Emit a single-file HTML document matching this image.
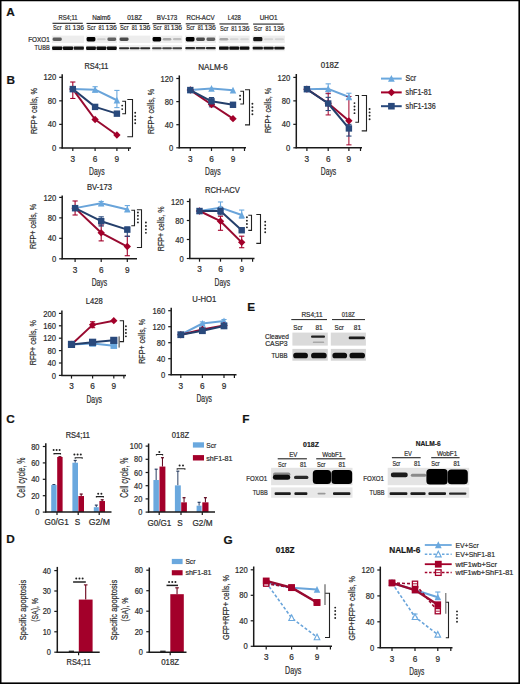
<!DOCTYPE html>
<html><head><meta charset="utf-8"><style>html,body{margin:0;padding:0;background:#fff;}svg{display:block;}text{font-family:"Liberation Sans",sans-serif;stroke:#333;stroke-width:0.22px;}</style></head><body>
<svg width="520" height="684" viewBox="0 0 520 684" font-family="Liberation Sans, sans-serif" fill="#2a2a2a">
<defs><filter id="bl" x="-20%" y="-50%" width="140%" height="200%"><feGaussianBlur stdDeviation="0.7"/></filter><filter id="bl2" x="-20%" y="-50%" width="140%" height="200%"><feGaussianBlur stdDeviation="0.45"/></filter></defs>
<rect x="0" y="0" width="520" height="684" fill="#fff" />
<text x="6.2" y="15.8" font-size="11.8" font-weight="bold" fill="#111" >A</text>
<text x="6.5" y="83.8" font-size="11.8" font-weight="bold" fill="#111" >B</text>
<text x="6.2" y="423" font-size="11.8" font-weight="bold" fill="#111" >C</text>
<text x="6.3" y="542.5" font-size="11.8" font-weight="bold" fill="#111" >D</text>
<text x="247.3" y="310.9" font-size="11.8" font-weight="bold" fill="#111" >E</text>
<text x="242.2" y="423" font-size="11.8" font-weight="bold" fill="#111" >F</text>
<text x="223.6" y="543.8" font-size="11.8" font-weight="bold" fill="#111" >G</text>
<text x="68" y="20.2" font-size="7" text-anchor="middle" textLength="19.2" lengthAdjust="spacingAndGlyphs" >RS4;11</text>
<line x1="52.5" y1="23.3" x2="82.8" y2="23.3" stroke="#222" stroke-width="1.1" />
<text x="53.1" y="29.8" font-size="7.3" textLength="8.4" lengthAdjust="spacingAndGlyphs" >Scr</text>
<text x="65" y="29.8" font-size="7.3" textLength="5.8" lengthAdjust="spacingAndGlyphs" >81</text>
<text x="84" y="29.8" font-size="7.3" text-anchor="end" textLength="11.4" lengthAdjust="spacingAndGlyphs" >136</text>
<rect x="51.8" y="35.6" width="32.4" height="7.4" fill="#ededed" />
<rect x="51.8" y="45" width="32.4" height="6.2" fill="#f0f0f0" />
<rect x="52.6" y="37.49" width="9.2" height="3.41" rx="1.4" fill="rgb(93,93,93)" filter="url(#bl2)"/>
<rect x="52.1" y="46.5" width="10.2" height="3.4" rx="0.8" fill="rgb(10,10,10)" filter="url(#bl2)"/>
<rect x="62.9" y="46.5" width="10.2" height="3.4" rx="0.8" fill="rgb(10,10,10)" filter="url(#bl2)"/>
<rect x="73.7" y="46.6" width="10.2" height="3.2" rx="0.8" fill="rgb(21,21,21)" filter="url(#bl2)"/>
<text x="101.4" y="20.2" font-size="7" text-anchor="middle" textLength="18.2" lengthAdjust="spacingAndGlyphs" >Nalm6</text>
<line x1="86.5" y1="23.43" x2="115.6" y2="23.43" stroke="#222" stroke-width="1.1" />
<text x="87.1" y="29.97" font-size="7.3" textLength="8.4" lengthAdjust="spacingAndGlyphs" >Scr</text>
<text x="98.51" y="29.97" font-size="7.3" textLength="5.8" lengthAdjust="spacingAndGlyphs" >81</text>
<text x="116.8" y="29.97" font-size="7.3" text-anchor="end" textLength="11.4" lengthAdjust="spacingAndGlyphs" >136</text>
<rect x="85.8" y="35.6" width="31.2" height="7.4" fill="#ededed" />
<rect x="85.8" y="45" width="31.2" height="6.2" fill="#f0f0f0" />
<rect x="86.6" y="37" width="8.8" height="4.4" rx="1.4" fill="rgb(6,6,6)" filter="url(#bl2)"/>
<rect x="86.1" y="46.5" width="9.8" height="3.4" rx="0.8" fill="rgb(10,10,10)" filter="url(#bl2)"/>
<rect x="97" y="38.14" width="8.8" height="2.11" rx="1.4" fill="rgb(208,208,208)" filter="url(#bl2)"/>
<rect x="96.5" y="46.5" width="9.8" height="3.4" rx="0.8" fill="rgb(10,10,10)" filter="url(#bl2)"/>
<rect x="107.4" y="37.52" width="8.8" height="3.36" rx="1.4" fill="rgb(98,98,98)" filter="url(#bl2)"/>
<rect x="106.9" y="46.5" width="9.8" height="3.4" rx="0.8" fill="rgb(10,10,10)" filter="url(#bl2)"/>
<text x="134.65" y="20.2" font-size="7" text-anchor="middle" textLength="14.8" lengthAdjust="spacingAndGlyphs" >018Z</text>
<line x1="119.5" y1="23.56" x2="149.1" y2="23.56" stroke="#222" stroke-width="1.1" />
<text x="120.1" y="30.15" font-size="7.3" textLength="8.4" lengthAdjust="spacingAndGlyphs" >Scr</text>
<text x="131.71" y="30.15" font-size="7.3" textLength="5.8" lengthAdjust="spacingAndGlyphs" >81</text>
<text x="150.3" y="30.15" font-size="7.3" text-anchor="end" textLength="11.4" lengthAdjust="spacingAndGlyphs" >136</text>
<rect x="118.8" y="35.6" width="31.7" height="7.4" fill="#ededed" />
<rect x="118.8" y="45" width="31.7" height="6.2" fill="#f0f0f0" />
<rect x="119.6" y="37.39" width="8.97" height="3.62" rx="1.4" fill="rgb(75,75,75)" filter="url(#bl2)"/>
<rect x="119.1" y="47.2" width="9.97" height="2" rx="0.8" fill="rgb(43,43,43)" filter="url(#bl2)"/>
<rect x="129.67" y="47.2" width="9.97" height="2" rx="0.8" fill="rgb(43,43,43)" filter="url(#bl2)"/>
<rect x="140.23" y="47.2" width="9.97" height="2" rx="0.8" fill="rgb(43,43,43)" filter="url(#bl2)"/>
<text x="167.05" y="20.2" font-size="7" text-anchor="middle" textLength="20.4" lengthAdjust="spacingAndGlyphs" >BV-173</text>
<line x1="152.5" y1="23.69" x2="180.9" y2="23.69" stroke="#222" stroke-width="1.1" />
<text x="153.1" y="30.32" font-size="7.3" textLength="8.4" lengthAdjust="spacingAndGlyphs" >Scr</text>
<text x="164.23" y="30.32" font-size="7.3" textLength="5.8" lengthAdjust="spacingAndGlyphs" >81</text>
<text x="182.1" y="30.32" font-size="7.3" text-anchor="end" textLength="11.4" lengthAdjust="spacingAndGlyphs" >136</text>
<rect x="151.8" y="35.6" width="30.5" height="7.4" fill="#ededed" />
<rect x="151.8" y="45" width="30.5" height="6.2" fill="#f0f0f0" />
<rect x="152.6" y="37" width="8.57" height="4.4" rx="1.4" fill="rgb(6,6,6)" filter="url(#bl2)"/>
<rect x="152.1" y="47.2" width="9.57" height="2" rx="0.8" fill="rgb(66,66,66)" filter="url(#bl2)"/>
<rect x="162.77" y="37.91" width="8.57" height="2.58" rx="1.4" fill="rgb(167,167,167)" filter="url(#bl2)"/>
<rect x="162.27" y="47.2" width="9.57" height="2" rx="0.8" fill="rgb(66,66,66)" filter="url(#bl2)"/>
<rect x="172.93" y="38.04" width="8.57" height="2.32" rx="1.4" fill="rgb(190,190,190)" filter="url(#bl2)"/>
<rect x="172.43" y="47.2" width="9.57" height="2" rx="0.8" fill="rgb(66,66,66)" filter="url(#bl2)"/>
<text x="200.5" y="20.2" font-size="7" text-anchor="middle" textLength="28" lengthAdjust="spacingAndGlyphs" >RCH-ACV</text>
<line x1="185.7" y1="23.82" x2="214.6" y2="23.82" stroke="#222" stroke-width="1.1" />
<text x="186.3" y="30.49" font-size="7.3" textLength="8.4" lengthAdjust="spacingAndGlyphs" >Scr</text>
<text x="197.63" y="30.49" font-size="7.3" textLength="5.8" lengthAdjust="spacingAndGlyphs" >81</text>
<text x="215.8" y="30.49" font-size="7.3" text-anchor="end" textLength="11.4" lengthAdjust="spacingAndGlyphs" >136</text>
<rect x="185" y="35.6" width="31" height="7.4" fill="#ededed" />
<rect x="185" y="45" width="31" height="6.2" fill="#f0f0f0" />
<rect x="185.8" y="37" width="8.73" height="4.4" rx="1.4" fill="rgb(6,6,6)" filter="url(#bl2)"/>
<rect x="185.3" y="47.1" width="9.73" height="2.2" rx="0.8" fill="rgb(43,43,43)" filter="url(#bl2)"/>
<rect x="196.13" y="37.39" width="8.73" height="3.62" rx="1.4" fill="rgb(75,75,75)" filter="url(#bl2)"/>
<rect x="195.63" y="47.1" width="9.73" height="2.2" rx="0.8" fill="rgb(55,55,55)" filter="url(#bl2)"/>
<rect x="206.47" y="37.52" width="8.73" height="3.36" rx="1.4" fill="rgb(98,98,98)" filter="url(#bl2)"/>
<rect x="205.97" y="47.1" width="9.73" height="2.2" rx="0.8" fill="rgb(43,43,43)" filter="url(#bl2)"/>
<text x="234.2" y="20.2" font-size="7" text-anchor="middle" textLength="13.1" lengthAdjust="spacingAndGlyphs" >L428</text>
<line x1="219.4" y1="23.95" x2="248.3" y2="23.95" stroke="#222" stroke-width="1.1" />
<text x="220" y="30.66" font-size="7.3" textLength="8.4" lengthAdjust="spacingAndGlyphs" >Scr</text>
<text x="231.33" y="30.66" font-size="7.3" textLength="5.8" lengthAdjust="spacingAndGlyphs" >81</text>
<text x="249.5" y="30.66" font-size="7.3" text-anchor="end" textLength="11.4" lengthAdjust="spacingAndGlyphs" >136</text>
<rect x="218.7" y="35.6" width="31" height="7.4" fill="#ededed" />
<rect x="218.7" y="45" width="31" height="6.2" fill="#f0f0f0" />
<rect x="219.5" y="37.91" width="8.73" height="2.58" rx="1.4" fill="rgb(167,167,167)" filter="url(#bl2)"/>
<rect x="219" y="46.6" width="9.73" height="3.2" rx="0.8" fill="rgb(10,10,10)" filter="url(#bl2)"/>
<rect x="229.83" y="38.17" width="8.73" height="2.06" rx="1.4" fill="rgb(213,213,213)" filter="url(#bl2)"/>
<rect x="229.33" y="46.6" width="9.73" height="3.2" rx="0.8" fill="rgb(10,10,10)" filter="url(#bl2)"/>
<rect x="240.17" y="38.17" width="8.73" height="2.06" rx="1.4" fill="rgb(213,213,213)" filter="url(#bl2)"/>
<rect x="239.67" y="46.6" width="9.73" height="3.2" rx="0.8" fill="rgb(10,10,10)" filter="url(#bl2)"/>
<text x="268.6" y="20.2" font-size="7" text-anchor="middle" textLength="17.7" lengthAdjust="spacingAndGlyphs" >UHO1</text>
<line x1="253.1" y1="24.08" x2="283.4" y2="24.08" stroke="#222" stroke-width="1.1" />
<text x="253.7" y="30.84" font-size="7.3" textLength="8.4" lengthAdjust="spacingAndGlyphs" >Scr</text>
<text x="265.6" y="30.84" font-size="7.3" textLength="5.8" lengthAdjust="spacingAndGlyphs" >81</text>
<text x="284.6" y="30.84" font-size="7.3" text-anchor="end" textLength="11.4" lengthAdjust="spacingAndGlyphs" >136</text>
<rect x="252.4" y="35.6" width="32.4" height="7.4" fill="#ededed" />
<rect x="252.4" y="45" width="32.4" height="6.2" fill="#f0f0f0" />
<rect x="253.2" y="37.1" width="9.2" height="4.19" rx="1.4" fill="rgb(24,24,24)" filter="url(#bl2)"/>
<rect x="252.7" y="46.8" width="10.2" height="2.8" rx="0.8" fill="rgb(21,21,21)" filter="url(#bl2)"/>
<rect x="264" y="38.17" width="9.2" height="2.06" rx="1.4" fill="rgb(213,213,213)" filter="url(#bl2)"/>
<rect x="263.5" y="46.8" width="10.2" height="2.8" rx="0.8" fill="rgb(21,21,21)" filter="url(#bl2)"/>
<rect x="274.8" y="38.17" width="9.2" height="2.06" rx="1.4" fill="rgb(213,213,213)" filter="url(#bl2)"/>
<rect x="274.3" y="46.8" width="10.2" height="2.8" rx="0.8" fill="rgb(21,21,21)" filter="url(#bl2)"/>
<text x="49.8" y="41.6" font-size="7.4" text-anchor="end" textLength="21.6" lengthAdjust="spacingAndGlyphs" >FOXO1</text>
<text x="49.8" y="50.3" font-size="7.4" text-anchor="end" textLength="15.2" lengthAdjust="spacingAndGlyphs" >TUBB</text>
<line x1="62.2" y1="74.3" x2="62.2" y2="148.4" stroke="#1a1a1a" stroke-width="1.5" />
<line x1="61.5" y1="147.9" x2="131" y2="147.9" stroke="#1a1a1a" stroke-width="1.5" />
<line x1="59.2" y1="147.9" x2="62.2" y2="147.9" stroke="#1a1a1a" stroke-width="1.2" />
<text x="56.2" y="151" font-size="8.6" text-anchor="end" textLength="4.25" lengthAdjust="spacingAndGlyphs" >0</text>
<line x1="59.2" y1="124.37" x2="62.2" y2="124.37" stroke="#1a1a1a" stroke-width="1.2" />
<text x="56.2" y="127.47" font-size="8.6" text-anchor="end" textLength="8.5" lengthAdjust="spacingAndGlyphs" >40</text>
<line x1="59.2" y1="100.84" x2="62.2" y2="100.84" stroke="#1a1a1a" stroke-width="1.2" />
<text x="56.2" y="103.94" font-size="8.6" text-anchor="end" textLength="8.5" lengthAdjust="spacingAndGlyphs" >80</text>
<line x1="59.2" y1="77.3" x2="62.2" y2="77.3" stroke="#1a1a1a" stroke-width="1.2" />
<text x="56.2" y="80.4" font-size="8.6" text-anchor="end" textLength="12.75" lengthAdjust="spacingAndGlyphs" >120</text>
<line x1="72.8" y1="147.9" x2="72.8" y2="151.1" stroke="#1a1a1a" stroke-width="1.2" />
<text x="72.8" y="161.7" font-size="8.4" text-anchor="middle" textLength="4.6" lengthAdjust="spacingAndGlyphs" >3</text>
<line x1="95.1" y1="147.9" x2="95.1" y2="151.1" stroke="#1a1a1a" stroke-width="1.2" />
<text x="95.1" y="161.7" font-size="8.4" text-anchor="middle" textLength="4.6" lengthAdjust="spacingAndGlyphs" >6</text>
<line x1="116.9" y1="147.9" x2="116.9" y2="151.1" stroke="#1a1a1a" stroke-width="1.2" />
<text x="116.9" y="161.7" font-size="8.4" text-anchor="middle" textLength="4.6" lengthAdjust="spacingAndGlyphs" >9</text>
<line x1="128.6" y1="147.9" x2="128.6" y2="151.1" stroke="#1a1a1a" stroke-width="1.2" />
<text x="96.5" y="68.8" font-size="8.2" text-anchor="middle" textLength="23.9" lengthAdjust="spacingAndGlyphs" >RS4;11</text>
<text x="96.85" y="175.2" font-size="10.6" text-anchor="middle" textLength="15.5" lengthAdjust="spacingAndGlyphs" >Days</text>
<text transform="translate(36.8 110.9) rotate(-90)" font-size="9.8" text-anchor="middle" textLength="46" lengthAdjust="spacingAndGlyphs" >RFP+ cells, %</text>
<polyline points="72.8,89.07 95.1,89.66 116.9,100.25" fill="none" stroke="#69a4da" stroke-width="2" stroke-linejoin="round" />
<polyline points="72.8,89.07 95.1,119.49 116.9,134.96" fill="none" stroke="#980a30" stroke-width="2" stroke-linejoin="round" />
<polyline points="72.8,89.07 95.1,106.9 116.9,113.66" fill="none" stroke="#243f6b" stroke-width="2" stroke-linejoin="round" />
<line x1="95.1" y1="92.01" x2="95.1" y2="86.72" stroke="#6aa8de" stroke-width="1.1" />
<line x1="92.5" y1="92.01" x2="97.7" y2="92.01" stroke="#6aa8de" stroke-width="1.1" />
<line x1="92.5" y1="86.72" x2="97.7" y2="86.72" stroke="#6aa8de" stroke-width="1.1" />
<line x1="116.9" y1="107.6" x2="116.9" y2="90.42" stroke="#6aa8de" stroke-width="1.1" />
<line x1="114.3" y1="107.6" x2="119.5" y2="107.6" stroke="#6aa8de" stroke-width="1.1" />
<line x1="114.3" y1="90.42" x2="119.5" y2="90.42" stroke="#6aa8de" stroke-width="1.1" />
<line x1="72.8" y1="98.48" x2="72.8" y2="82.01" stroke="#a3002a" stroke-width="1.1" />
<line x1="70.2" y1="98.48" x2="75.4" y2="98.48" stroke="#a3002a" stroke-width="1.1" />
<line x1="70.2" y1="82.01" x2="75.4" y2="82.01" stroke="#a3002a" stroke-width="1.1" />
<polygon points="72.8,85.55 76.06,92.21 69.54,92.21" fill="#6aa8de"/>
<polygon points="95.1,86.14 98.36,92.79 91.84,92.79" fill="#6aa8de"/>
<polygon points="116.9,96.73 120.16,103.38 113.64,103.38" fill="#6aa8de"/>
<polygon points="72.8,85.39 76.48,89.07 72.8,92.75 69.12,89.07" fill="#a3002a"/>
<polygon points="95.1,115.81 98.78,119.49 95.1,123.17 91.42,119.49" fill="#a3002a"/>
<polygon points="116.9,131.28 120.58,134.96 116.9,138.64 113.22,134.96" fill="#a3002a"/>
<rect x="69.6" y="85.87" width="6.4" height="6.4" fill="#29497c" />
<rect x="91.9" y="103.7" width="6.4" height="6.4" fill="#29497c" />
<rect x="113.7" y="110.46" width="6.4" height="6.4" fill="#29497c" />
<polyline points="122.2,101.2 125.5,101.2 125.5,113.7 122.2,113.7" fill="none" stroke="#222" stroke-width="1.1"/>
<polyline points="127.3,99.5 132.5,99.5 132.5,136.8 127.3,136.8" fill="none" stroke="#222" stroke-width="1.1"/>
<circle cx="122.2" cy="105.6" r="0.95" fill="#222"/>
<circle cx="122.2" cy="109.1" r="0.95" fill="#222"/>
<circle cx="135.2" cy="112.8" r="0.95" fill="#222"/>
<circle cx="135.2" cy="116.3" r="0.95" fill="#222"/>
<circle cx="135.2" cy="119.8" r="0.95" fill="#222"/>
<circle cx="135.2" cy="123.3" r="0.95" fill="#222"/>
<line x1="179.3" y1="75.4" x2="179.3" y2="148.3" stroke="#1a1a1a" stroke-width="1.5" />
<line x1="178.6" y1="147.8" x2="246" y2="147.8" stroke="#1a1a1a" stroke-width="1.5" />
<line x1="176.3" y1="147.8" x2="179.3" y2="147.8" stroke="#1a1a1a" stroke-width="1.2" />
<text x="173.3" y="150.9" font-size="8.6" text-anchor="end" textLength="4.25" lengthAdjust="spacingAndGlyphs" >0</text>
<line x1="176.3" y1="124.7" x2="179.3" y2="124.7" stroke="#1a1a1a" stroke-width="1.2" />
<text x="173.3" y="127.8" font-size="8.6" text-anchor="end" textLength="8.5" lengthAdjust="spacingAndGlyphs" >40</text>
<line x1="176.3" y1="101.6" x2="179.3" y2="101.6" stroke="#1a1a1a" stroke-width="1.2" />
<text x="173.3" y="104.7" font-size="8.6" text-anchor="end" textLength="8.5" lengthAdjust="spacingAndGlyphs" >80</text>
<line x1="176.3" y1="78.5" x2="179.3" y2="78.5" stroke="#1a1a1a" stroke-width="1.2" />
<text x="173.3" y="81.6" font-size="8.6" text-anchor="end" textLength="12.75" lengthAdjust="spacingAndGlyphs" >120</text>
<line x1="190.3" y1="147.8" x2="190.3" y2="151" stroke="#1a1a1a" stroke-width="1.2" />
<text x="190.3" y="161.6" font-size="8.4" text-anchor="middle" textLength="4.6" lengthAdjust="spacingAndGlyphs" >3</text>
<line x1="211.5" y1="147.8" x2="211.5" y2="151" stroke="#1a1a1a" stroke-width="1.2" />
<text x="211.5" y="161.6" font-size="8.4" text-anchor="middle" textLength="4.6" lengthAdjust="spacingAndGlyphs" >6</text>
<line x1="233" y1="147.8" x2="233" y2="151" stroke="#1a1a1a" stroke-width="1.2" />
<text x="233" y="161.6" font-size="8.4" text-anchor="middle" textLength="4.6" lengthAdjust="spacingAndGlyphs" >9</text>
<line x1="244.5" y1="147.8" x2="244.5" y2="151" stroke="#1a1a1a" stroke-width="1.2" />
<text x="213" y="70.3" font-size="8.2" text-anchor="middle" textLength="29.6" lengthAdjust="spacingAndGlyphs" >NALM-6</text>
<text x="212.8" y="175.1" font-size="10.6" text-anchor="middle" textLength="15.5" lengthAdjust="spacingAndGlyphs" >Days</text>
<text transform="translate(153.8 111.4) rotate(-90)" font-size="9.8" text-anchor="middle" textLength="45.1" lengthAdjust="spacingAndGlyphs" >RFP+ cells, %</text>
<polyline points="190.3,90.05 211.5,88.61 233,90.28" fill="none" stroke="#69a4da" stroke-width="2" stroke-linejoin="round" />
<polyline points="190.3,90.05 211.5,104.49 233,118.69" fill="none" stroke="#980a30" stroke-width="2" stroke-linejoin="round" />
<polyline points="190.3,90.05 211.5,101.31 233,104.78" fill="none" stroke="#243f6b" stroke-width="2" stroke-linejoin="round" />
<line x1="211.5" y1="106.8" x2="211.5" y2="97.56" stroke="#29497c" stroke-width="1.1" />
<line x1="208.9" y1="106.8" x2="214.1" y2="106.8" stroke="#29497c" stroke-width="1.1" />
<line x1="208.9" y1="97.56" x2="214.1" y2="97.56" stroke="#29497c" stroke-width="1.1" />
<polygon points="190.3,86.53 193.56,93.19 187.04,93.19" fill="#6aa8de"/>
<polygon points="211.5,85.09 214.76,91.74 208.24,91.74" fill="#6aa8de"/>
<polygon points="233,86.76 236.26,93.42 229.74,93.42" fill="#6aa8de"/>
<polygon points="190.3,86.37 193.98,90.05 190.3,93.73 186.62,90.05" fill="#a3002a"/>
<polygon points="211.5,100.81 215.18,104.49 211.5,108.17 207.82,104.49" fill="#a3002a"/>
<polygon points="233,115.01 236.68,118.69 233,122.37 229.32,118.69" fill="#a3002a"/>
<rect x="187.1" y="86.85" width="6.4" height="6.4" fill="#29497c" />
<rect x="208.3" y="98.11" width="6.4" height="6.4" fill="#29497c" />
<rect x="229.8" y="101.58" width="6.4" height="6.4" fill="#29497c" />
<polyline points="240.3,91.3 243.5,91.3 243.5,104 240.3,104" fill="none" stroke="#222" stroke-width="1.1"/>
<polyline points="245,89.7 249.5,89.7 249.5,124.9 245,124.9" fill="none" stroke="#222" stroke-width="1.1"/>
<circle cx="240.1" cy="95.7" r="0.95" fill="#222"/>
<circle cx="240.1" cy="99.2" r="0.95" fill="#222"/>
<circle cx="252.4" cy="103.7" r="0.95" fill="#222"/>
<circle cx="252.4" cy="107.2" r="0.95" fill="#222"/>
<circle cx="252.4" cy="110.7" r="0.95" fill="#222"/>
<circle cx="252.4" cy="114.2" r="0.95" fill="#222"/>
<line x1="296.3" y1="74" x2="296.3" y2="148.3" stroke="#1a1a1a" stroke-width="1.5" />
<line x1="295.6" y1="147.8" x2="362" y2="147.8" stroke="#1a1a1a" stroke-width="1.5" />
<line x1="293.3" y1="147.8" x2="296.3" y2="147.8" stroke="#1a1a1a" stroke-width="1.2" />
<text x="290.3" y="150.9" font-size="8.6" text-anchor="end" textLength="4.25" lengthAdjust="spacingAndGlyphs" >0</text>
<line x1="293.3" y1="124.33" x2="296.3" y2="124.33" stroke="#1a1a1a" stroke-width="1.2" />
<text x="290.3" y="127.43" font-size="8.6" text-anchor="end" textLength="8.5" lengthAdjust="spacingAndGlyphs" >40</text>
<line x1="293.3" y1="100.86" x2="296.3" y2="100.86" stroke="#1a1a1a" stroke-width="1.2" />
<text x="290.3" y="103.96" font-size="8.6" text-anchor="end" textLength="8.5" lengthAdjust="spacingAndGlyphs" >80</text>
<line x1="293.3" y1="77.4" x2="296.3" y2="77.4" stroke="#1a1a1a" stroke-width="1.2" />
<text x="290.3" y="80.5" font-size="8.6" text-anchor="end" textLength="12.75" lengthAdjust="spacingAndGlyphs" >120</text>
<line x1="306.9" y1="147.8" x2="306.9" y2="151" stroke="#1a1a1a" stroke-width="1.2" />
<text x="306.9" y="161.6" font-size="8.4" text-anchor="middle" textLength="4.6" lengthAdjust="spacingAndGlyphs" >3</text>
<line x1="328.2" y1="147.8" x2="328.2" y2="151" stroke="#1a1a1a" stroke-width="1.2" />
<text x="328.2" y="161.6" font-size="8.4" text-anchor="middle" textLength="4.6" lengthAdjust="spacingAndGlyphs" >6</text>
<line x1="348.9" y1="147.8" x2="348.9" y2="151" stroke="#1a1a1a" stroke-width="1.2" />
<text x="348.9" y="161.6" font-size="8.4" text-anchor="middle" textLength="4.6" lengthAdjust="spacingAndGlyphs" >9</text>
<line x1="360.5" y1="147.8" x2="360.5" y2="151" stroke="#1a1a1a" stroke-width="1.2" />
<text x="329.8" y="68.4" font-size="8.2" text-anchor="middle" textLength="18" lengthAdjust="spacingAndGlyphs" >018Z</text>
<text x="328.5" y="175.1" font-size="10.6" text-anchor="middle" textLength="15.5" lengthAdjust="spacingAndGlyphs" >Days</text>
<text transform="translate(271.2 110.5) rotate(-90)" font-size="9.8" text-anchor="middle" textLength="45.2" lengthAdjust="spacingAndGlyphs" >RFP+ cells, %</text>
<polyline points="306.9,89.13 328.2,88.84 348.9,97.05" fill="none" stroke="#69a4da" stroke-width="2" stroke-linejoin="round" />
<polyline points="306.9,89.13 328.2,103.21 348.9,120.81" fill="none" stroke="#980a30" stroke-width="2" stroke-linejoin="round" />
<polyline points="306.9,89.13 328.2,103.5 348.9,128.44" fill="none" stroke="#243f6b" stroke-width="2" stroke-linejoin="round" />
<line x1="328.2" y1="93.82" x2="328.2" y2="83.85" stroke="#6aa8de" stroke-width="1.1" />
<line x1="325.6" y1="93.82" x2="330.8" y2="93.82" stroke="#6aa8de" stroke-width="1.1" />
<line x1="325.6" y1="83.85" x2="330.8" y2="83.85" stroke="#6aa8de" stroke-width="1.1" />
<line x1="348.9" y1="99.1" x2="348.9" y2="93.24" stroke="#6aa8de" stroke-width="1.1" />
<line x1="346.3" y1="99.1" x2="351.5" y2="99.1" stroke="#6aa8de" stroke-width="1.1" />
<line x1="346.3" y1="93.24" x2="351.5" y2="93.24" stroke="#6aa8de" stroke-width="1.1" />
<line x1="328.2" y1="114.94" x2="328.2" y2="93.24" stroke="#a3002a" stroke-width="1" />
<line x1="325.6" y1="114.94" x2="330.8" y2="114.94" stroke="#a3002a" stroke-width="1" />
<line x1="325.6" y1="93.24" x2="330.8" y2="93.24" stroke="#a3002a" stroke-width="1" />
<line x1="348.9" y1="144.87" x2="348.9" y2="96.46" stroke="#a3002a" stroke-width="1" />
<line x1="346.3" y1="144.87" x2="351.5" y2="144.87" stroke="#a3002a" stroke-width="1" />
<line x1="346.3" y1="96.46" x2="351.5" y2="96.46" stroke="#a3002a" stroke-width="1" />
<line x1="328.2" y1="110.54" x2="328.2" y2="97.34" stroke="#29497c" stroke-width="1.1" />
<line x1="325.6" y1="110.54" x2="330.8" y2="110.54" stroke="#29497c" stroke-width="1.1" />
<line x1="325.6" y1="97.34" x2="330.8" y2="97.34" stroke="#29497c" stroke-width="1.1" />
<line x1="348.9" y1="136.07" x2="348.9" y2="124.33" stroke="#29497c" stroke-width="1.1" />
<line x1="346.3" y1="136.07" x2="351.5" y2="136.07" stroke="#29497c" stroke-width="1.1" />
<line x1="346.3" y1="124.33" x2="351.5" y2="124.33" stroke="#29497c" stroke-width="1.1" />
<polygon points="306.9,85.61 310.16,92.27 303.64,92.27" fill="#6aa8de"/>
<polygon points="328.2,85.32 331.46,91.97 324.94,91.97" fill="#6aa8de"/>
<polygon points="348.9,93.53 352.16,100.19 345.64,100.19" fill="#6aa8de"/>
<polygon points="306.9,85.45 310.58,89.13 306.9,92.81 303.22,89.13" fill="#a3002a"/>
<polygon points="328.2,99.53 331.88,103.21 328.2,106.89 324.52,103.21" fill="#a3002a"/>
<polygon points="348.9,117.13 352.58,120.81 348.9,124.49 345.22,120.81" fill="#a3002a"/>
<rect x="303.7" y="85.93" width="6.4" height="6.4" fill="#29497c" />
<rect x="325" y="100.3" width="6.4" height="6.4" fill="#29497c" />
<rect x="345.7" y="125.24" width="6.4" height="6.4" fill="#29497c" />
<polyline points="355.3,95.5 358.5,95.5 358.5,122.2 355.3,122.2" fill="none" stroke="#222" stroke-width="1.1"/>
<polyline points="361.7,95.5 366.5,95.5 366.5,130.9 361.7,130.9" fill="none" stroke="#222" stroke-width="1.1"/>
<circle cx="354.5" cy="103.1" r="0.95" fill="#222"/>
<circle cx="354.5" cy="106.45" r="0.95" fill="#222"/>
<circle cx="354.5" cy="109.8" r="0.95" fill="#222"/>
<circle cx="354.5" cy="113.15" r="0.95" fill="#222"/>
<circle cx="369.6" cy="109" r="0.95" fill="#222"/>
<circle cx="369.6" cy="112.4" r="0.95" fill="#222"/>
<circle cx="369.6" cy="115.8" r="0.95" fill="#222"/>
<circle cx="369.6" cy="119.2" r="0.95" fill="#222"/>
<line x1="381" y1="78.6" x2="401.7" y2="78.6" stroke="#6aa8de" stroke-width="2" />
<polygon points="391.4,74.97 394.77,81.83 388.03,81.83" fill="#6aa8de"/>
<text x="405.6" y="81.3" font-size="8.2" textLength="10.6" lengthAdjust="spacingAndGlyphs" >Scr</text>
<line x1="381" y1="92.4" x2="401.7" y2="92.4" stroke="#a3002a" stroke-width="2" />
<polygon points="391.4,88.6 395.19,92.4 391.4,96.19 387.6,92.4" fill="#a3002a"/>
<text x="405.6" y="95.1" font-size="8.2" textLength="26" lengthAdjust="spacingAndGlyphs" >shF1-81</text>
<line x1="381" y1="106.2" x2="401.7" y2="106.2" stroke="#29497c" stroke-width="2" />
<rect x="388.1" y="102.9" width="6.6" height="6.6" fill="#29497c" />
<text x="405.6" y="108.9" font-size="8.2" textLength="30.2" lengthAdjust="spacingAndGlyphs" >shF1-136</text>
<line x1="62.2" y1="195.4" x2="62.2" y2="259.3" stroke="#1a1a1a" stroke-width="1.5" />
<line x1="61.5" y1="258.8" x2="137" y2="258.8" stroke="#1a1a1a" stroke-width="1.5" />
<line x1="59.2" y1="258.8" x2="62.2" y2="258.8" stroke="#1a1a1a" stroke-width="1.2" />
<text x="56.2" y="261.9" font-size="8.6" text-anchor="end" textLength="4.25" lengthAdjust="spacingAndGlyphs" >0</text>
<line x1="59.2" y1="238.33" x2="62.2" y2="238.33" stroke="#1a1a1a" stroke-width="1.2" />
<text x="56.2" y="241.43" font-size="8.6" text-anchor="end" textLength="8.5" lengthAdjust="spacingAndGlyphs" >40</text>
<line x1="59.2" y1="217.86" x2="62.2" y2="217.86" stroke="#1a1a1a" stroke-width="1.2" />
<text x="56.2" y="220.96" font-size="8.6" text-anchor="end" textLength="8.5" lengthAdjust="spacingAndGlyphs" >80</text>
<line x1="59.2" y1="197.4" x2="62.2" y2="197.4" stroke="#1a1a1a" stroke-width="1.2" />
<text x="56.2" y="200.5" font-size="8.6" text-anchor="end" textLength="12.75" lengthAdjust="spacingAndGlyphs" >120</text>
<line x1="75.1" y1="258.8" x2="75.1" y2="262" stroke="#1a1a1a" stroke-width="1.2" />
<text x="75.1" y="272.6" font-size="8.4" text-anchor="middle" textLength="4.6" lengthAdjust="spacingAndGlyphs" >3</text>
<line x1="101.2" y1="258.8" x2="101.2" y2="262" stroke="#1a1a1a" stroke-width="1.2" />
<text x="101.2" y="272.6" font-size="8.4" text-anchor="middle" textLength="4.6" lengthAdjust="spacingAndGlyphs" >6</text>
<line x1="127.3" y1="258.8" x2="127.3" y2="262" stroke="#1a1a1a" stroke-width="1.2" />
<text x="127.3" y="272.6" font-size="8.4" text-anchor="middle" textLength="4.6" lengthAdjust="spacingAndGlyphs" >9</text>
<text x="99.4" y="189.9" font-size="8.2" text-anchor="middle" textLength="25" lengthAdjust="spacingAndGlyphs" >BV-173</text>
<text x="99.4" y="286.1" font-size="10.6" text-anchor="middle" textLength="15.5" lengthAdjust="spacingAndGlyphs" >Days</text>
<text transform="translate(36.4 226.4) rotate(-90)" font-size="9.8" text-anchor="middle" textLength="45.1" lengthAdjust="spacingAndGlyphs" >RFP+ cells, %</text>
<polyline points="75.1,208.14 101.2,203.28 127.3,209.42" fill="none" stroke="#69a4da" stroke-width="2" stroke-linejoin="round" />
<polyline points="75.1,208.14 101.2,232.81 127.3,246.52" fill="none" stroke="#980a30" stroke-width="2" stroke-linejoin="round" />
<polyline points="75.1,208.14 101.2,221.19 127.3,229.63" fill="none" stroke="#243f6b" stroke-width="2" stroke-linejoin="round" />
<line x1="101.2" y1="205.58" x2="101.2" y2="201.49" stroke="#6aa8de" stroke-width="1.1" />
<line x1="98.6" y1="205.58" x2="103.8" y2="205.58" stroke="#6aa8de" stroke-width="1.1" />
<line x1="98.6" y1="201.49" x2="103.8" y2="201.49" stroke="#6aa8de" stroke-width="1.1" />
<line x1="127.3" y1="211.21" x2="127.3" y2="205.58" stroke="#6aa8de" stroke-width="1.1" />
<line x1="124.7" y1="211.21" x2="129.9" y2="211.21" stroke="#6aa8de" stroke-width="1.1" />
<line x1="124.7" y1="205.58" x2="129.9" y2="205.58" stroke="#6aa8de" stroke-width="1.1" />
<line x1="75.1" y1="215" x2="75.1" y2="200.98" stroke="#a3002a" stroke-width="1.1" />
<line x1="72.5" y1="215" x2="77.7" y2="215" stroke="#a3002a" stroke-width="1.1" />
<line x1="72.5" y1="200.98" x2="77.7" y2="200.98" stroke="#a3002a" stroke-width="1.1" />
<line x1="101.2" y1="240.89" x2="101.2" y2="225.03" stroke="#a3002a" stroke-width="1.1" />
<line x1="98.6" y1="240.89" x2="103.8" y2="240.89" stroke="#a3002a" stroke-width="1.1" />
<line x1="98.6" y1="225.03" x2="103.8" y2="225.03" stroke="#a3002a" stroke-width="1.1" />
<line x1="127.3" y1="255.73" x2="127.3" y2="236.29" stroke="#a3002a" stroke-width="1.1" />
<line x1="124.7" y1="255.73" x2="129.9" y2="255.73" stroke="#a3002a" stroke-width="1.1" />
<line x1="124.7" y1="236.29" x2="129.9" y2="236.29" stroke="#a3002a" stroke-width="1.1" />
<line x1="101.2" y1="226.05" x2="101.2" y2="216.84" stroke="#29497c" stroke-width="1.1" />
<line x1="98.6" y1="226.05" x2="103.8" y2="226.05" stroke="#29497c" stroke-width="1.1" />
<line x1="98.6" y1="216.84" x2="103.8" y2="216.84" stroke="#29497c" stroke-width="1.1" />
<line x1="127.3" y1="236.29" x2="127.3" y2="227.07" stroke="#29497c" stroke-width="1.1" />
<line x1="124.7" y1="236.29" x2="129.9" y2="236.29" stroke="#29497c" stroke-width="1.1" />
<line x1="124.7" y1="227.07" x2="129.9" y2="227.07" stroke="#29497c" stroke-width="1.1" />
<polygon points="75.1,204.62 78.36,211.28 71.84,211.28" fill="#6aa8de"/>
<polygon points="101.2,199.76 104.46,206.42 97.94,206.42" fill="#6aa8de"/>
<polygon points="127.3,205.9 130.56,212.56 124.04,212.56" fill="#6aa8de"/>
<polygon points="75.1,204.46 78.78,208.14 75.1,211.82 71.42,208.14" fill="#a3002a"/>
<polygon points="101.2,229.13 104.88,232.81 101.2,236.49 97.52,232.81" fill="#a3002a"/>
<polygon points="127.3,242.84 130.98,246.52 127.3,250.2 123.62,246.52" fill="#a3002a"/>
<rect x="71.9" y="204.94" width="6.4" height="6.4" fill="#29497c" />
<rect x="98" y="217.99" width="6.4" height="6.4" fill="#29497c" />
<rect x="124.1" y="226.43" width="6.4" height="6.4" fill="#29497c" />
<polyline points="131.3,210.3 134.5,210.3 134.5,225.7 131.3,225.7" fill="none" stroke="#222" stroke-width="1.1"/>
<polyline points="136.9,209.7 141.5,209.7 141.5,247.5 136.9,247.5" fill="none" stroke="#222" stroke-width="1.1"/>
<circle cx="137.9" cy="212.5" r="0.95" fill="#222"/>
<circle cx="137.9" cy="215.8" r="0.95" fill="#222"/>
<circle cx="137.9" cy="219.1" r="0.95" fill="#222"/>
<circle cx="137.9" cy="222.4" r="0.95" fill="#222"/>
<circle cx="145.9" cy="222.5" r="0.95" fill="#222"/>
<circle cx="145.9" cy="225.95" r="0.95" fill="#222"/>
<circle cx="145.9" cy="229.4" r="0.95" fill="#222"/>
<circle cx="145.9" cy="232.85" r="0.95" fill="#222"/>
<line x1="189.8" y1="198.5" x2="189.8" y2="259" stroke="#1a1a1a" stroke-width="1.5" />
<line x1="189.1" y1="258.5" x2="254.5" y2="258.5" stroke="#1a1a1a" stroke-width="1.5" />
<line x1="186.8" y1="258.5" x2="189.8" y2="258.5" stroke="#1a1a1a" stroke-width="1.2" />
<text x="183.8" y="261.6" font-size="8.6" text-anchor="end" textLength="4.25" lengthAdjust="spacingAndGlyphs" >0</text>
<line x1="186.8" y1="239.5" x2="189.8" y2="239.5" stroke="#1a1a1a" stroke-width="1.2" />
<text x="183.8" y="242.6" font-size="8.6" text-anchor="end" textLength="8.5" lengthAdjust="spacingAndGlyphs" >40</text>
<line x1="186.8" y1="220.5" x2="189.8" y2="220.5" stroke="#1a1a1a" stroke-width="1.2" />
<text x="183.8" y="223.6" font-size="8.6" text-anchor="end" textLength="8.5" lengthAdjust="spacingAndGlyphs" >80</text>
<line x1="186.8" y1="201.5" x2="189.8" y2="201.5" stroke="#1a1a1a" stroke-width="1.2" />
<text x="183.8" y="204.6" font-size="8.6" text-anchor="end" textLength="12.75" lengthAdjust="spacingAndGlyphs" >120</text>
<line x1="199.5" y1="258.5" x2="199.5" y2="261.7" stroke="#1a1a1a" stroke-width="1.2" />
<text x="199.5" y="272.3" font-size="8.4" text-anchor="middle" textLength="4.6" lengthAdjust="spacingAndGlyphs" >3</text>
<line x1="220.5" y1="258.5" x2="220.5" y2="261.7" stroke="#1a1a1a" stroke-width="1.2" />
<text x="220.5" y="272.3" font-size="8.4" text-anchor="middle" textLength="4.6" lengthAdjust="spacingAndGlyphs" >6</text>
<line x1="241.7" y1="258.5" x2="241.7" y2="261.7" stroke="#1a1a1a" stroke-width="1.2" />
<text x="241.7" y="272.3" font-size="8.4" text-anchor="middle" textLength="4.6" lengthAdjust="spacingAndGlyphs" >9</text>
<line x1="252.6" y1="258.5" x2="252.6" y2="261.7" stroke="#1a1a1a" stroke-width="1.2" />
<text x="222.5" y="192.9" font-size="8.2" text-anchor="middle" textLength="34.8" lengthAdjust="spacingAndGlyphs" >RCH-ACV</text>
<text x="222.3" y="285.8" font-size="10.6" text-anchor="middle" textLength="15.5" lengthAdjust="spacingAndGlyphs" >Days</text>
<text transform="translate(164 228.8) rotate(-90)" font-size="9.8" text-anchor="middle" textLength="44.7" lengthAdjust="spacingAndGlyphs" >RFP+ cells, %</text>
<polyline points="199.5,211 220.5,207.68 241.7,215.04" fill="none" stroke="#69a4da" stroke-width="2" stroke-linejoin="round" />
<polyline points="199.5,211 220.5,221.21 241.7,242.35" fill="none" stroke="#980a30" stroke-width="2" stroke-linejoin="round" />
<polyline points="199.5,211 220.5,211 241.7,230.24" fill="none" stroke="#243f6b" stroke-width="2" stroke-linejoin="round" />
<line x1="220.5" y1="212.9" x2="220.5" y2="201.97" stroke="#6aa8de" stroke-width="1.1" />
<line x1="217.9" y1="212.9" x2="223.1" y2="212.9" stroke="#6aa8de" stroke-width="1.1" />
<line x1="217.9" y1="201.97" x2="223.1" y2="201.97" stroke="#6aa8de" stroke-width="1.1" />
<line x1="241.7" y1="218.12" x2="241.7" y2="210.05" stroke="#6aa8de" stroke-width="1.1" />
<line x1="239.1" y1="218.12" x2="244.3" y2="218.12" stroke="#6aa8de" stroke-width="1.1" />
<line x1="239.1" y1="210.05" x2="244.3" y2="210.05" stroke="#6aa8de" stroke-width="1.1" />
<line x1="220.5" y1="230.28" x2="220.5" y2="216.22" stroke="#a3002a" stroke-width="1.1" />
<line x1="217.9" y1="230.28" x2="223.1" y2="230.28" stroke="#a3002a" stroke-width="1.1" />
<line x1="217.9" y1="216.22" x2="223.1" y2="216.22" stroke="#a3002a" stroke-width="1.1" />
<line x1="241.7" y1="247.72" x2="241.7" y2="236.18" stroke="#a3002a" stroke-width="1.1" />
<line x1="239.1" y1="247.72" x2="244.3" y2="247.72" stroke="#a3002a" stroke-width="1.1" />
<line x1="239.1" y1="236.18" x2="244.3" y2="236.18" stroke="#a3002a" stroke-width="1.1" />
<line x1="220.5" y1="214.8" x2="220.5" y2="207.2" stroke="#29497c" stroke-width="1.1" />
<line x1="217.9" y1="214.8" x2="223.1" y2="214.8" stroke="#29497c" stroke-width="1.1" />
<line x1="217.9" y1="207.2" x2="223.1" y2="207.2" stroke="#29497c" stroke-width="1.1" />
<polygon points="199.5,207.48 202.76,214.14 196.24,214.14" fill="#6aa8de"/>
<polygon points="220.5,204.16 223.76,210.81 217.24,210.81" fill="#6aa8de"/>
<polygon points="241.7,211.52 244.96,218.17 238.44,218.17" fill="#6aa8de"/>
<polygon points="199.5,207.32 203.18,211 199.5,214.68 195.82,211" fill="#a3002a"/>
<polygon points="220.5,217.53 224.18,221.21 220.5,224.89 216.82,221.21" fill="#a3002a"/>
<polygon points="241.7,238.67 245.38,242.35 241.7,246.03 238.02,242.35" fill="#a3002a"/>
<rect x="196.3" y="207.8" width="6.4" height="6.4" fill="#29497c" />
<rect x="217.3" y="207.8" width="6.4" height="6.4" fill="#29497c" />
<rect x="238.5" y="227.04" width="6.4" height="6.4" fill="#29497c" />
<polyline points="248.3,215.3 251.5,215.3 251.5,230.4 248.3,230.4" fill="none" stroke="#222" stroke-width="1.1"/>
<polyline points="256.3,214.5 260.5,214.5 260.5,243.4 256.3,243.4" fill="none" stroke="#222" stroke-width="1.1"/>
<circle cx="246.9" cy="217.3" r="0.95" fill="#222"/>
<circle cx="246.9" cy="220.65" r="0.95" fill="#222"/>
<circle cx="246.9" cy="224" r="0.95" fill="#222"/>
<circle cx="246.9" cy="227.35" r="0.95" fill="#222"/>
<circle cx="265.2" cy="221.7" r="0.95" fill="#222"/>
<circle cx="265.2" cy="225.2" r="0.95" fill="#222"/>
<circle cx="265.2" cy="228.7" r="0.95" fill="#222"/>
<circle cx="265.2" cy="232.2" r="0.95" fill="#222"/>
<line x1="61.9" y1="310.4" x2="61.9" y2="375.9" stroke="#1a1a1a" stroke-width="1.5" />
<line x1="61.2" y1="375.4" x2="126" y2="375.4" stroke="#1a1a1a" stroke-width="1.5" />
<line x1="58.9" y1="375.4" x2="61.9" y2="375.4" stroke="#1a1a1a" stroke-width="1.2" />
<text x="55.9" y="378.5" font-size="8.6" text-anchor="end" textLength="4.25" lengthAdjust="spacingAndGlyphs" >0</text>
<line x1="58.9" y1="363" x2="61.9" y2="363" stroke="#1a1a1a" stroke-width="1.2" />
<text x="55.9" y="366.1" font-size="8.6" text-anchor="end" textLength="8.5" lengthAdjust="spacingAndGlyphs" >40</text>
<line x1="58.9" y1="350.6" x2="61.9" y2="350.6" stroke="#1a1a1a" stroke-width="1.2" />
<text x="55.9" y="353.7" font-size="8.6" text-anchor="end" textLength="8.5" lengthAdjust="spacingAndGlyphs" >80</text>
<line x1="58.9" y1="338.2" x2="61.9" y2="338.2" stroke="#1a1a1a" stroke-width="1.2" />
<text x="55.9" y="341.3" font-size="8.6" text-anchor="end" textLength="12.75" lengthAdjust="spacingAndGlyphs" >120</text>
<line x1="58.9" y1="325.8" x2="61.9" y2="325.8" stroke="#1a1a1a" stroke-width="1.2" />
<text x="55.9" y="328.9" font-size="8.6" text-anchor="end" textLength="12.75" lengthAdjust="spacingAndGlyphs" >160</text>
<line x1="58.9" y1="313.4" x2="61.9" y2="313.4" stroke="#1a1a1a" stroke-width="1.2" />
<text x="55.9" y="316.5" font-size="8.6" text-anchor="end" textLength="12.75" lengthAdjust="spacingAndGlyphs" >200</text>
<line x1="71.5" y1="375.4" x2="71.5" y2="378.6" stroke="#1a1a1a" stroke-width="1.2" />
<text x="71.5" y="389.2" font-size="8.4" text-anchor="middle" textLength="4.6" lengthAdjust="spacingAndGlyphs" >3</text>
<line x1="92.6" y1="375.4" x2="92.6" y2="378.6" stroke="#1a1a1a" stroke-width="1.2" />
<text x="92.6" y="389.2" font-size="8.4" text-anchor="middle" textLength="4.6" lengthAdjust="spacingAndGlyphs" >6</text>
<line x1="113.8" y1="375.4" x2="113.8" y2="378.6" stroke="#1a1a1a" stroke-width="1.2" />
<text x="113.8" y="389.2" font-size="8.4" text-anchor="middle" textLength="4.6" lengthAdjust="spacingAndGlyphs" >9</text>
<line x1="123.9" y1="375.4" x2="123.9" y2="378.6" stroke="#1a1a1a" stroke-width="1.2" />
<text x="94.2" y="304.4" font-size="8.2" text-anchor="middle" textLength="16.9" lengthAdjust="spacingAndGlyphs" >L428</text>
<text x="94.2" y="402.7" font-size="10.6" text-anchor="middle" textLength="15.5" lengthAdjust="spacingAndGlyphs" >Days</text>
<text transform="translate(36.4 342.7) rotate(-90)" font-size="9.8" text-anchor="middle" textLength="45.2" lengthAdjust="spacingAndGlyphs" >RFP+ cells, %</text>
<polyline points="71.5,344.4 92.6,343.47 113.8,345.64" fill="none" stroke="#69a4da" stroke-width="2" stroke-linejoin="round" />
<polyline points="71.5,344.4 92.6,324.87 113.8,320.69" fill="none" stroke="#980a30" stroke-width="2" stroke-linejoin="round" />
<polyline points="71.5,344.4 92.6,342.29 113.8,340.37" fill="none" stroke="#243f6b" stroke-width="2" stroke-linejoin="round" />
<line x1="92.6" y1="327.66" x2="92.6" y2="321.77" stroke="#a3002a" stroke-width="1.1" />
<line x1="90" y1="327.66" x2="95.2" y2="327.66" stroke="#a3002a" stroke-width="1.1" />
<line x1="90" y1="321.77" x2="95.2" y2="321.77" stroke="#a3002a" stroke-width="1.1" />
<rect x="68.2" y="341.1" width="6.6" height="6.6" fill="#6aa8de" />
<rect x="89.3" y="340.17" width="6.6" height="6.6" fill="#6aa8de" />
<rect x="110.5" y="342.34" width="6.6" height="6.6" fill="#6aa8de" />
<polygon points="71.5,340.72 75.18,344.4 71.5,348.08 67.82,344.4" fill="#a3002a"/>
<polygon points="92.6,321.19 96.28,324.87 92.6,328.55 88.92,324.87" fill="#a3002a"/>
<polygon points="113.8,317 117.48,320.69 113.8,324.37 110.12,320.69" fill="#a3002a"/>
<rect x="67.9" y="340.8" width="7.2" height="7.2" fill="#29497c" />
<rect x="89" y="338.69" width="7.2" height="7.2" fill="#29497c" />
<rect x="110.2" y="336.77" width="7.2" height="7.2" fill="#29497c" />
<polyline points="119.7,320.7 123.5,320.7 123.5,341.6 119.7,341.6" fill="none" stroke="#222" stroke-width="1.1"/>
<circle cx="125.9" cy="326.3" r="0.95" fill="#222"/>
<circle cx="125.9" cy="329.65" r="0.95" fill="#222"/>
<circle cx="125.9" cy="333" r="0.95" fill="#222"/>
<circle cx="125.9" cy="336.35" r="0.95" fill="#222"/>
<line x1="119.1" y1="336.4" x2="119.1" y2="347.6" stroke="#333" stroke-width="1" />
<line x1="171.2" y1="307.8" x2="171.2" y2="375.2" stroke="#1a1a1a" stroke-width="1.5" />
<line x1="170.5" y1="374.7" x2="236.5" y2="374.7" stroke="#1a1a1a" stroke-width="1.5" />
<line x1="168.2" y1="374.7" x2="171.2" y2="374.7" stroke="#1a1a1a" stroke-width="1.2" />
<text x="165.2" y="377.8" font-size="8.6" text-anchor="end" textLength="4.25" lengthAdjust="spacingAndGlyphs" >0</text>
<line x1="168.2" y1="358.7" x2="171.2" y2="358.7" stroke="#1a1a1a" stroke-width="1.2" />
<text x="165.2" y="361.8" font-size="8.6" text-anchor="end" textLength="8.5" lengthAdjust="spacingAndGlyphs" >40</text>
<line x1="168.2" y1="342.7" x2="171.2" y2="342.7" stroke="#1a1a1a" stroke-width="1.2" />
<text x="165.2" y="345.8" font-size="8.6" text-anchor="end" textLength="8.5" lengthAdjust="spacingAndGlyphs" >80</text>
<line x1="168.2" y1="326.7" x2="171.2" y2="326.7" stroke="#1a1a1a" stroke-width="1.2" />
<text x="165.2" y="329.8" font-size="8.6" text-anchor="end" textLength="12.75" lengthAdjust="spacingAndGlyphs" >120</text>
<line x1="168.2" y1="310.7" x2="171.2" y2="310.7" stroke="#1a1a1a" stroke-width="1.2" />
<text x="165.2" y="313.8" font-size="8.6" text-anchor="end" textLength="12.75" lengthAdjust="spacingAndGlyphs" >160</text>
<line x1="180.8" y1="374.7" x2="180.8" y2="377.9" stroke="#1a1a1a" stroke-width="1.2" />
<text x="180.8" y="388.5" font-size="8.4" text-anchor="middle" textLength="4.6" lengthAdjust="spacingAndGlyphs" >3</text>
<line x1="202.4" y1="374.7" x2="202.4" y2="377.9" stroke="#1a1a1a" stroke-width="1.2" />
<text x="202.4" y="388.5" font-size="8.4" text-anchor="middle" textLength="4.6" lengthAdjust="spacingAndGlyphs" >6</text>
<line x1="224" y1="374.7" x2="224" y2="377.9" stroke="#1a1a1a" stroke-width="1.2" />
<text x="224" y="388.5" font-size="8.4" text-anchor="middle" textLength="4.6" lengthAdjust="spacingAndGlyphs" >9</text>
<line x1="234.4" y1="374.7" x2="234.4" y2="377.9" stroke="#1a1a1a" stroke-width="1.2" />
<text x="204.3" y="302.4" font-size="8.2" text-anchor="middle" textLength="23.9" lengthAdjust="spacingAndGlyphs" >U-HO1</text>
<text x="204.2" y="402" font-size="10.6" text-anchor="middle" textLength="15.5" lengthAdjust="spacingAndGlyphs" >Days</text>
<text transform="translate(145.3 341.4) rotate(-90)" font-size="9.8" text-anchor="middle" textLength="44.8" lengthAdjust="spacingAndGlyphs" >RFP+ cells, %</text>
<polyline points="180.8,334.7 202.4,323.5 224,321.1" fill="none" stroke="#69a4da" stroke-width="2" stroke-linejoin="round" />
<polyline points="180.8,334.7 202.4,329.5 224,325.5" fill="none" stroke="#980a30" stroke-width="2" stroke-linejoin="round" />
<polyline points="180.8,334.7 202.4,330.7 224,325.9" fill="none" stroke="#243f6b" stroke-width="2" stroke-linejoin="round" />
<line x1="202.4" y1="325.1" x2="202.4" y2="321.9" stroke="#6aa8de" stroke-width="1.1" />
<line x1="199.8" y1="325.1" x2="205" y2="325.1" stroke="#6aa8de" stroke-width="1.1" />
<line x1="199.8" y1="321.9" x2="205" y2="321.9" stroke="#6aa8de" stroke-width="1.1" />
<line x1="224" y1="322.7" x2="224" y2="319.5" stroke="#6aa8de" stroke-width="1.1" />
<line x1="221.4" y1="322.7" x2="226.6" y2="322.7" stroke="#6aa8de" stroke-width="1.1" />
<line x1="221.4" y1="319.5" x2="226.6" y2="319.5" stroke="#6aa8de" stroke-width="1.1" />
<polygon points="180.8,331.18 184.06,337.84 177.54,337.84" fill="#6aa8de"/>
<polygon points="202.4,319.98 205.66,326.64 199.14,326.64" fill="#6aa8de"/>
<polygon points="224,317.58 227.26,324.24 220.74,324.24" fill="#6aa8de"/>
<polygon points="180.8,331.02 184.48,334.7 180.8,338.38 177.12,334.7" fill="#a3002a"/>
<polygon points="202.4,325.82 206.08,329.5 202.4,333.18 198.72,329.5" fill="#a3002a"/>
<polygon points="224,321.82 227.68,325.5 224,329.18 220.32,325.5" fill="#a3002a"/>
<rect x="177.4" y="331.3" width="6.8" height="6.8" fill="#29497c" />
<rect x="199" y="327.3" width="6.8" height="6.8" fill="#29497c" />
<rect x="220.6" y="322.5" width="6.8" height="6.8" fill="#29497c" />
<text x="312" y="316.8" font-size="7.4" text-anchor="middle" textLength="21.2" lengthAdjust="spacingAndGlyphs" >RS4;11</text>
<line x1="291.3" y1="319.6" x2="327" y2="319.6" stroke="#222" stroke-width="1" />
<text x="348.3" y="316.8" font-size="7.4" text-anchor="middle" textLength="13.2" lengthAdjust="spacingAndGlyphs" >018Z</text>
<line x1="332" y1="319.6" x2="365" y2="319.6" stroke="#222" stroke-width="1" />
<text x="293.3" y="329.6" font-size="7.4" textLength="9.3" lengthAdjust="spacingAndGlyphs" >Scr</text>
<text x="315.5" y="329.6" font-size="7.4" textLength="7.2" lengthAdjust="spacingAndGlyphs" >81</text>
<text x="334.5" y="329.6" font-size="7.4" textLength="9.3" lengthAdjust="spacingAndGlyphs" >Scr</text>
<text x="353.8" y="329.6" font-size="7.4" textLength="7.2" lengthAdjust="spacingAndGlyphs" >81</text>
<rect x="292.4" y="332.6" width="35.4" height="13" fill="#dadada" />
<rect x="330.8" y="332.6" width="35.1" height="13" fill="#dadada" />
<rect x="311" y="335.5" width="14" height="2.2" rx="1" fill="#222" filter="url(#bl2)"/>
<rect x="312.8" y="341.6" width="11.4" height="1.5" rx="0.7" fill="#a8a8a8" filter="url(#bl2)"/>
<rect x="348.7" y="336.6" width="16.3" height="2.6" rx="1.2" fill="#1a1a1a" filter="url(#bl2)"/>
<rect x="292.4" y="348.9" width="35.4" height="11.8" fill="#d4d4d4" />
<rect x="330.8" y="348.9" width="35.1" height="11.8" fill="#d4d4d4" />
<rect x="293.2" y="352.7" width="14.7" height="5.6" rx="2.6" fill="#111" filter="url(#bl2)"/>
<rect x="311.1" y="352.7" width="15.6" height="5.6" rx="2.6" fill="#111" filter="url(#bl2)"/>
<rect x="332.4" y="352.7" width="14.7" height="5.6" rx="2.6" fill="#111" filter="url(#bl2)"/>
<rect x="349.5" y="352.7" width="15.5" height="5.6" rx="2.6" fill="#111" filter="url(#bl2)"/>
<text x="288.8" y="338.9" font-size="7.4" text-anchor="end" textLength="23.8" lengthAdjust="spacingAndGlyphs" >Cleaved</text>
<text x="287.6" y="346.4" font-size="7.4" text-anchor="end" textLength="22.4" lengthAdjust="spacingAndGlyphs" >CASP3</text>
<text x="287.6" y="358.2" font-size="7.4" text-anchor="end" textLength="16.2" lengthAdjust="spacingAndGlyphs" >TUBB</text>
<line x1="53.9" y1="485.04" x2="53.9" y2="484.63" stroke="#2b3f63" stroke-width="1" />
<line x1="52.4" y1="484.63" x2="55.4" y2="484.63" stroke="#2b3f63" stroke-width="1.2" />
<rect x="51.2" y="485.04" width="5.4" height="27.06" fill="#6aa8de" />
<line x1="59.9" y1="457" x2="59.9" y2="456.75" stroke="#5a0018" stroke-width="1" />
<line x1="58.4" y1="456.75" x2="61.4" y2="456.75" stroke="#5a0018" stroke-width="1.2" />
<rect x="57.2" y="457" width="5.4" height="55.1" fill="#a3002a" />
<line x1="75.2" y1="462.74" x2="75.2" y2="460.44" stroke="#2b3f63" stroke-width="1" />
<line x1="73.7" y1="460.44" x2="76.7" y2="460.44" stroke="#2b3f63" stroke-width="1.2" />
<rect x="72.4" y="462.74" width="5.6" height="49.36" fill="#6aa8de" />
<line x1="81.2" y1="496.03" x2="81.2" y2="494.06" stroke="#5a0018" stroke-width="1" />
<line x1="79.7" y1="494.06" x2="82.7" y2="494.06" stroke="#5a0018" stroke-width="1.2" />
<rect x="78.4" y="496.03" width="5.6" height="16.07" fill="#a3002a" />
<line x1="96.3" y1="507.18" x2="96.3" y2="505.13" stroke="#2b3f63" stroke-width="1" />
<line x1="94.8" y1="505.13" x2="97.8" y2="505.13" stroke="#2b3f63" stroke-width="1.2" />
<rect x="93.8" y="507.18" width="5" height="4.92" fill="#6aa8de" />
<line x1="102.2" y1="501.03" x2="102.2" y2="499.8" stroke="#5a0018" stroke-width="1" />
<line x1="100.7" y1="499.8" x2="103.7" y2="499.8" stroke="#5a0018" stroke-width="1.2" />
<rect x="99.4" y="501.03" width="5.6" height="11.07" fill="#a3002a" />
<line x1="45.8" y1="443.2" x2="45.8" y2="512.6" stroke="#1a1a1a" stroke-width="1.5" />
<line x1="45.1" y1="512.1" x2="111.5" y2="512.1" stroke="#1a1a1a" stroke-width="1.5" />
<line x1="42.8" y1="512.1" x2="45.8" y2="512.1" stroke="#1a1a1a" stroke-width="1.2" />
<text x="39.5" y="515.1" font-size="8.4" text-anchor="end" textLength="4.15" lengthAdjust="spacingAndGlyphs" >0</text>
<line x1="42.8" y1="495.7" x2="45.8" y2="495.7" stroke="#1a1a1a" stroke-width="1.2" />
<text x="39.5" y="498.7" font-size="8.4" text-anchor="end" textLength="8.3" lengthAdjust="spacingAndGlyphs" >20</text>
<line x1="42.8" y1="479.3" x2="45.8" y2="479.3" stroke="#1a1a1a" stroke-width="1.2" />
<text x="39.5" y="482.3" font-size="8.4" text-anchor="end" textLength="8.3" lengthAdjust="spacingAndGlyphs" >40</text>
<line x1="42.8" y1="462.9" x2="45.8" y2="462.9" stroke="#1a1a1a" stroke-width="1.2" />
<text x="39.5" y="465.9" font-size="8.4" text-anchor="end" textLength="8.3" lengthAdjust="spacingAndGlyphs" >60</text>
<line x1="42.8" y1="446.5" x2="45.8" y2="446.5" stroke="#1a1a1a" stroke-width="1.2" />
<text x="39.5" y="449.5" font-size="8.4" text-anchor="end" textLength="8.3" lengthAdjust="spacingAndGlyphs" >80</text>
<line x1="57" y1="512.1" x2="57" y2="515.1" stroke="#1a1a1a" stroke-width="1.2" />
<line x1="78.2" y1="512.1" x2="78.2" y2="515.1" stroke="#1a1a1a" stroke-width="1.2" />
<line x1="99.2" y1="512.1" x2="99.2" y2="515.1" stroke="#1a1a1a" stroke-width="1.2" />
<text x="77.85" y="438.1" font-size="8.2" text-anchor="middle" textLength="24.3" lengthAdjust="spacingAndGlyphs" >RS4;11</text>
<text transform="translate(25 477.6) rotate(-90)" font-size="10" text-anchor="middle" textLength="40.3" lengthAdjust="spacingAndGlyphs" >Cell cycle, %</text>
<circle cx="53.6" cy="449.9" r="1.0" fill="#222"/>
<circle cx="56.6" cy="449.9" r="1.0" fill="#222"/>
<circle cx="59.6" cy="449.9" r="1.0" fill="#222"/>
<polyline points="54,454.6 54,453.6 60.5,453.6 60.5,454.6" fill="none" stroke="#222" stroke-width="1.1"/>
<circle cx="74.4" cy="454.5" r="1.0" fill="#222"/>
<circle cx="77.6" cy="454.5" r="1.0" fill="#222"/>
<circle cx="80.8" cy="454.5" r="1.0" fill="#222"/>
<polyline points="75.2,458.8 75.2,457.8 82.2,457.8 82.2,458.8" fill="none" stroke="#222" stroke-width="1.1"/>
<circle cx="98.2" cy="493.8" r="1.0" fill="#222"/>
<circle cx="101.4" cy="493.8" r="1.0" fill="#222"/>
<polyline points="96.4,497.6 96.4,496.6 103.4,496.6 103.4,497.6" fill="none" stroke="#222" stroke-width="1.1"/>
<text x="56.6" y="524.8" font-size="8.2" text-anchor="middle" textLength="24.2" lengthAdjust="spacingAndGlyphs" >G0/G1</text>
<text x="77.6" y="524.8" font-size="8.2" text-anchor="middle" >S</text>
<text x="99.4" y="524.8" font-size="8.2" text-anchor="middle" textLength="21.2" lengthAdjust="spacingAndGlyphs" >G2/M</text>
<line x1="156.15" y1="480.02" x2="156.15" y2="469.2" stroke="#2b3f63" stroke-width="1" />
<line x1="154.65" y1="469.2" x2="157.65" y2="469.2" stroke="#2b3f63" stroke-width="1.2" />
<rect x="153.4" y="480.02" width="5.5" height="32.08" fill="#6aa8de" />
<line x1="162.45" y1="466.56" x2="162.45" y2="457.72" stroke="#5a0018" stroke-width="1" />
<line x1="160.95" y1="457.72" x2="163.95" y2="457.72" stroke="#5a0018" stroke-width="1.2" />
<rect x="159.5" y="466.56" width="5.9" height="45.54" fill="#a3002a" />
<line x1="177.85" y1="485.37" x2="177.85" y2="471.18" stroke="#2b3f63" stroke-width="1" />
<line x1="176.35" y1="471.18" x2="179.35" y2="471.18" stroke="#2b3f63" stroke-width="1.2" />
<rect x="174.9" y="485.37" width="5.9" height="26.73" fill="#6aa8de" />
<line x1="184.05" y1="502.33" x2="184.05" y2="497.71" stroke="#5a0018" stroke-width="1" />
<line x1="182.55" y1="497.71" x2="185.55" y2="497.71" stroke="#5a0018" stroke-width="1.2" />
<rect x="181.2" y="502.33" width="5.7" height="9.77" fill="#a3002a" />
<line x1="199.1" y1="505.7" x2="199.1" y2="502.33" stroke="#2b3f63" stroke-width="1" />
<line x1="197.6" y1="502.33" x2="200.6" y2="502.33" stroke="#2b3f63" stroke-width="1.2" />
<rect x="196.6" y="505.7" width="5" height="6.4" fill="#6aa8de" />
<line x1="205.4" y1="502.33" x2="205.4" y2="497.71" stroke="#5a0018" stroke-width="1" />
<line x1="203.9" y1="497.71" x2="206.9" y2="497.71" stroke="#5a0018" stroke-width="1.2" />
<rect x="202.3" y="502.33" width="6.2" height="9.77" fill="#a3002a" />
<line x1="148.6" y1="443.5" x2="148.6" y2="512.6" stroke="#1a1a1a" stroke-width="1.5" />
<line x1="147.9" y1="512.1" x2="215" y2="512.1" stroke="#1a1a1a" stroke-width="1.5" />
<line x1="145.6" y1="512.1" x2="148.6" y2="512.1" stroke="#1a1a1a" stroke-width="1.2" />
<text x="142.3" y="515.1" font-size="8.4" text-anchor="end" textLength="4.15" lengthAdjust="spacingAndGlyphs" >0</text>
<line x1="145.6" y1="498.9" x2="148.6" y2="498.9" stroke="#1a1a1a" stroke-width="1.2" />
<text x="142.3" y="501.9" font-size="8.4" text-anchor="end" textLength="8.3" lengthAdjust="spacingAndGlyphs" >20</text>
<line x1="145.6" y1="485.7" x2="148.6" y2="485.7" stroke="#1a1a1a" stroke-width="1.2" />
<text x="142.3" y="488.7" font-size="8.4" text-anchor="end" textLength="8.3" lengthAdjust="spacingAndGlyphs" >40</text>
<line x1="145.6" y1="472.5" x2="148.6" y2="472.5" stroke="#1a1a1a" stroke-width="1.2" />
<text x="142.3" y="475.5" font-size="8.4" text-anchor="end" textLength="8.3" lengthAdjust="spacingAndGlyphs" >60</text>
<line x1="145.6" y1="459.3" x2="148.6" y2="459.3" stroke="#1a1a1a" stroke-width="1.2" />
<text x="142.3" y="462.3" font-size="8.4" text-anchor="end" textLength="8.3" lengthAdjust="spacingAndGlyphs" >80</text>
<line x1="145.6" y1="446.1" x2="148.6" y2="446.1" stroke="#1a1a1a" stroke-width="1.2" />
<text x="142.3" y="449.1" font-size="8.4" text-anchor="end" textLength="12.45" lengthAdjust="spacingAndGlyphs" >100</text>
<line x1="159.2" y1="512.1" x2="159.2" y2="515.1" stroke="#1a1a1a" stroke-width="1.2" />
<line x1="181" y1="512.1" x2="181" y2="515.1" stroke="#1a1a1a" stroke-width="1.2" />
<line x1="202.3" y1="512.1" x2="202.3" y2="515.1" stroke="#1a1a1a" stroke-width="1.2" />
<text x="180.5" y="438.1" font-size="8.2" text-anchor="middle" textLength="17.4" lengthAdjust="spacingAndGlyphs" >018Z</text>
<text transform="translate(128 477.6) rotate(-90)" font-size="10" text-anchor="middle" textLength="40.3" lengthAdjust="spacingAndGlyphs" >Cell cycle, %</text>
<circle cx="159.3" cy="451.9" r="1.0" fill="#222"/>
<polyline points="156.4,455.5 156.4,454.5 162.6,454.5 162.6,455.5" fill="none" stroke="#222" stroke-width="1.1"/>
<circle cx="179.6" cy="465.5" r="1.0" fill="#222"/>
<circle cx="183" cy="465.5" r="1.0" fill="#222"/>
<polyline points="177.2,469.8 177.2,468.8 184.9,468.8 184.9,469.8" fill="none" stroke="#222" stroke-width="1.1"/>
<text x="159.3" y="525.6" font-size="8.2" text-anchor="middle" textLength="23.8" lengthAdjust="spacingAndGlyphs" >G0/G1</text>
<text x="180" y="525.6" font-size="8.2" text-anchor="middle" >S</text>
<text x="202.5" y="525.6" font-size="8.2" text-anchor="middle" textLength="20" lengthAdjust="spacingAndGlyphs" >G2/M</text>
<rect x="192.9" y="442.3" width="11.1" height="5.3" fill="#6aa8de" />
<text x="206.3" y="447.6" font-size="8" textLength="10" lengthAdjust="spacingAndGlyphs" >Scr</text>
<rect x="192.9" y="455.1" width="11.1" height="5.4" fill="#a3002a" />
<text x="206.3" y="460.7" font-size="8" textLength="26.2" lengthAdjust="spacingAndGlyphs" >shF1-81</text>
<line x1="85.7" y1="599.57" x2="85.7" y2="584.88" stroke="#6a0018" stroke-width="1.1" />
<line x1="83.9" y1="584.88" x2="87.5" y2="584.88" stroke="#6a0018" stroke-width="1.1" />
<rect x="78.8" y="599.57" width="13.8" height="52.63" fill="#a3002a" />
<rect x="68.8" y="650.6" width="5.2" height="1.6" fill="#333" />
<line x1="57.3" y1="566.9" x2="57.3" y2="652.7" stroke="#1a1a1a" stroke-width="1.5" />
<line x1="56.6" y1="652.2" x2="99.7" y2="652.2" stroke="#1a1a1a" stroke-width="1.5" />
<line x1="54.3" y1="652.2" x2="57.3" y2="652.2" stroke="#1a1a1a" stroke-width="1.2" />
<text x="51" y="655.2" font-size="8.4" text-anchor="end" textLength="4.15" lengthAdjust="spacingAndGlyphs" >0</text>
<line x1="54.3" y1="631.8" x2="57.3" y2="631.8" stroke="#1a1a1a" stroke-width="1.2" />
<text x="51" y="634.8" font-size="8.4" text-anchor="end" textLength="8.3" lengthAdjust="spacingAndGlyphs" >10</text>
<line x1="54.3" y1="611.4" x2="57.3" y2="611.4" stroke="#1a1a1a" stroke-width="1.2" />
<text x="51" y="614.4" font-size="8.4" text-anchor="end" textLength="8.3" lengthAdjust="spacingAndGlyphs" >20</text>
<line x1="54.3" y1="591" x2="57.3" y2="591" stroke="#1a1a1a" stroke-width="1.2" />
<text x="51" y="594" font-size="8.4" text-anchor="end" textLength="8.3" lengthAdjust="spacingAndGlyphs" >30</text>
<line x1="54.3" y1="570.6" x2="57.3" y2="570.6" stroke="#1a1a1a" stroke-width="1.2" />
<text x="51" y="573.6" font-size="8.4" text-anchor="end" textLength="8.3" lengthAdjust="spacingAndGlyphs" >40</text>
<line x1="78.6" y1="652.2" x2="78.6" y2="655.2" stroke="#1a1a1a" stroke-width="1.2" />
<text x="78.65" y="665.2" font-size="8.2" text-anchor="middle" textLength="24.3" lengthAdjust="spacingAndGlyphs" >RS4;11</text>
<line x1="73.1" y1="582" x2="85.8" y2="582" stroke="#222" stroke-width="1.5" />
<circle cx="76.25" cy="578.5" r="1.0" fill="#222"/>
<circle cx="79.45" cy="578.5" r="1.0" fill="#222"/>
<circle cx="82.65" cy="578.5" r="1.0" fill="#222"/>
<line x1="177.05" y1="594.19" x2="177.05" y2="587.83" stroke="#6a0018" stroke-width="1.1" />
<line x1="175.25" y1="587.83" x2="178.85" y2="587.83" stroke="#6a0018" stroke-width="1.1" />
<rect x="170.3" y="594.19" width="13.5" height="58.01" fill="#a3002a" />
<rect x="160.2" y="650.6" width="5.4" height="1.6" fill="#333" />
<line x1="149.3" y1="567.5" x2="149.3" y2="652.7" stroke="#1a1a1a" stroke-width="1.5" />
<line x1="148.6" y1="652.2" x2="186.5" y2="652.2" stroke="#1a1a1a" stroke-width="1.5" />
<line x1="146.3" y1="652.2" x2="149.3" y2="652.2" stroke="#1a1a1a" stroke-width="1.2" />
<text x="143" y="655.2" font-size="8.4" text-anchor="end" textLength="4.15" lengthAdjust="spacingAndGlyphs" >0</text>
<line x1="146.3" y1="631.7" x2="149.3" y2="631.7" stroke="#1a1a1a" stroke-width="1.2" />
<text x="143" y="634.7" font-size="8.4" text-anchor="end" textLength="8.3" lengthAdjust="spacingAndGlyphs" >20</text>
<line x1="146.3" y1="611.2" x2="149.3" y2="611.2" stroke="#1a1a1a" stroke-width="1.2" />
<text x="143" y="614.2" font-size="8.4" text-anchor="end" textLength="8.3" lengthAdjust="spacingAndGlyphs" >40</text>
<line x1="146.3" y1="590.7" x2="149.3" y2="590.7" stroke="#1a1a1a" stroke-width="1.2" />
<text x="143" y="593.7" font-size="8.4" text-anchor="end" textLength="8.3" lengthAdjust="spacingAndGlyphs" >60</text>
<line x1="146.3" y1="570.2" x2="149.3" y2="570.2" stroke="#1a1a1a" stroke-width="1.2" />
<text x="143" y="573.2" font-size="8.4" text-anchor="end" textLength="8.3" lengthAdjust="spacingAndGlyphs" >80</text>
<line x1="170.2" y1="652.2" x2="170.2" y2="655.2" stroke="#1a1a1a" stroke-width="1.2" />
<text x="170.2" y="665.2" font-size="8.2" text-anchor="middle" textLength="18" lengthAdjust="spacingAndGlyphs" >018Z</text>
<line x1="166.5" y1="585.4" x2="178" y2="585.4" stroke="#222" stroke-width="1.5" />
<circle cx="169.05" cy="581.9" r="1.0" fill="#222"/>
<circle cx="172.25" cy="581.9" r="1.0" fill="#222"/>
<circle cx="175.45" cy="581.9" r="1.0" fill="#222"/>
<text transform="translate(25.8 610) rotate(-90)" font-size="9.8" text-anchor="middle" textLength="60.3" lengthAdjust="spacingAndGlyphs" >Specific apoptosis</text>
<text transform="translate(116.7 610) rotate(-90)" font-size="9.8" text-anchor="middle" textLength="60.3" lengthAdjust="spacingAndGlyphs" >Specific apoptosis</text>
<text transform="translate(37.5 609.9) rotate(-90)" font-size="9.8" text-anchor="middle" textLength="23.8" lengthAdjust="spacingAndGlyphs" >(SA), %</text>
<text transform="translate(128.3 609.5) rotate(-90)" font-size="9.8" text-anchor="middle" textLength="23.8" lengthAdjust="spacingAndGlyphs" >(SA), %</text>
<rect x="171.8" y="558.9" width="10.8" height="5.2" fill="#6aa8de" />
<text x="185.4" y="564.1" font-size="8" textLength="10" lengthAdjust="spacingAndGlyphs" >Scr</text>
<rect x="171.8" y="570.2" width="10.8" height="5.1" fill="#a3002a" />
<text x="185.4" y="575" font-size="8" textLength="26" lengthAdjust="spacingAndGlyphs" >shF1-81</text>
<text x="311" y="446.5" font-size="7.6" text-anchor="middle" font-weight="bold" fill="#111" textLength="15.8" lengthAdjust="spacingAndGlyphs" >018Z</text>
<text x="293.3" y="456.8" font-size="7.5" text-anchor="middle" textLength="8.2" lengthAdjust="spacingAndGlyphs" >EV</text>
<line x1="277.7" y1="458.8" x2="306.9" y2="458.8" stroke="#222" stroke-width="1.1" />
<text x="332.3" y="456.8" font-size="7.5" text-anchor="middle" textLength="20" lengthAdjust="spacingAndGlyphs" >WobF1</text>
<line x1="316.2" y1="458.8" x2="345.4" y2="458.8" stroke="#222" stroke-width="1.1" />
<text x="278" y="466.8" font-size="7.6" textLength="8.2" lengthAdjust="spacingAndGlyphs" >Scr</text>
<text x="300" y="466.8" font-size="7.6" textLength="6.6" lengthAdjust="spacingAndGlyphs" >81</text>
<text x="316.9" y="466.8" font-size="7.6" textLength="8.5" lengthAdjust="spacingAndGlyphs" >Scr</text>
<text x="338.5" y="466.8" font-size="7.6" textLength="6.9" lengthAdjust="spacingAndGlyphs" >81</text>
<rect x="271.1" y="467.8" width="81.4" height="17.4" fill="#e4e4e4" />
<rect x="271.1" y="487.4" width="81.4" height="10.4" fill="#e8e8e8" />
<rect x="273" y="472.6" width="17.4" height="3.8" rx="1.9" fill="#8a8a8a" filter="url(#bl)"/>
<rect x="272.9" y="474.8" width="17.3" height="5" rx="2.5" fill="#111" filter="url(#bl)"/>
<rect x="294" y="475.8" width="14.4" height="3.2" rx="1.6" fill="#2a2a2a" filter="url(#bl)"/>
<rect x="312.8" y="470" width="18.2" height="14" rx="3.5" fill="#000" filter="url(#bl)"/>
<rect x="331.4" y="470" width="20.8" height="14" rx="3.5" fill="#000" filter="url(#bl)"/>
<rect x="274.6" y="492.3" width="16.2" height="2.6" rx="1" fill="#1a1a1a" filter="url(#bl2)"/>
<rect x="294.4" y="492.3" width="13" height="2.6" rx="1" fill="#1a1a1a" filter="url(#bl2)"/>
<rect x="317.5" y="492.7" width="8.1" height="1.8" rx="1" fill="#999" filter="url(#bl2)"/>
<rect x="333" y="492.3" width="17.4" height="2.6" rx="1" fill="#1a1a1a" filter="url(#bl2)"/>
<text x="267.1" y="481.3" font-size="7.6" text-anchor="end" textLength="20.8" lengthAdjust="spacingAndGlyphs" >FOXO1</text>
<text x="267.7" y="495.4" font-size="7.6" text-anchor="end" textLength="15" lengthAdjust="spacingAndGlyphs" >TUBB</text>
<text x="428.25" y="446" font-size="7.6" text-anchor="middle" font-weight="bold" fill="#111" textLength="24.9" lengthAdjust="spacingAndGlyphs" >NALM-6</text>
<text x="408" y="455.7" font-size="7.5" text-anchor="middle" textLength="7.7" lengthAdjust="spacingAndGlyphs" >EV</text>
<line x1="391.9" y1="457.7" x2="420.7" y2="457.7" stroke="#222" stroke-width="1.1" />
<text x="447.1" y="455.7" font-size="7.5" text-anchor="middle" textLength="20.3" lengthAdjust="spacingAndGlyphs" >WobF1</text>
<line x1="431.2" y1="457.7" x2="459.6" y2="457.7" stroke="#222" stroke-width="1.1" />
<text x="392.4" y="465.7" font-size="7.6" textLength="8" lengthAdjust="spacingAndGlyphs" >Scr</text>
<text x="413.9" y="465.7" font-size="7.6" textLength="6.5" lengthAdjust="spacingAndGlyphs" >81</text>
<text x="431.2" y="465.7" font-size="7.6" textLength="8.4" lengthAdjust="spacingAndGlyphs" >Scr</text>
<text x="453.5" y="465.7" font-size="7.6" textLength="6.6" lengthAdjust="spacingAndGlyphs" >81</text>
<rect x="387.7" y="467.8" width="81.5" height="17.4" fill="#e4e4e4" />
<rect x="387.7" y="487.4" width="81.5" height="10.4" fill="#e8e8e8" />
<rect x="390.8" y="472.6" width="17" height="4.6" rx="2.3" fill="#1a1a1a" filter="url(#bl)"/>
<rect x="410.8" y="473.8" width="15.4" height="3" rx="1.5" fill="#8a8a8a" filter="url(#bl)"/>
<rect x="426.4" y="469" width="21.2" height="15.4" rx="3.5" fill="#000" filter="url(#bl)"/>
<rect x="447.8" y="469.4" width="20" height="14.8" rx="3.5" fill="#000" filter="url(#bl)"/>
<rect x="389.6" y="492.3" width="17.8" height="2.6" rx="1" fill="#1a1a1a" filter="url(#bl2)"/>
<rect x="410.4" y="492.3" width="15.2" height="2.6" rx="1" fill="#1a1a1a" filter="url(#bl2)"/>
<rect x="428.4" y="492.3" width="17.6" height="2.6" rx="1" fill="#1a1a1a" filter="url(#bl2)"/>
<rect x="449" y="492.5" width="17.4" height="2.2" rx="1" fill="#2a2a2a" filter="url(#bl2)"/>
<text x="384" y="481.3" font-size="7.6" text-anchor="end" textLength="20.8" lengthAdjust="spacingAndGlyphs" >FOXO1</text>
<text x="384.6" y="495.4" font-size="7.6" text-anchor="end" textLength="15" lengthAdjust="spacingAndGlyphs" >TUBB</text>
<line x1="253.7" y1="566.5" x2="253.7" y2="646.8" stroke="#1a1a1a" stroke-width="1.5" />
<line x1="253" y1="646.3" x2="332" y2="646.3" stroke="#1a1a1a" stroke-width="1.5" />
<line x1="250.7" y1="646.3" x2="253.7" y2="646.3" stroke="#1a1a1a" stroke-width="1.2" />
<text x="247.7" y="649.4" font-size="8.6" text-anchor="end" textLength="4.25" lengthAdjust="spacingAndGlyphs" >0</text>
<line x1="250.7" y1="620.8" x2="253.7" y2="620.8" stroke="#1a1a1a" stroke-width="1.2" />
<text x="247.7" y="623.9" font-size="8.6" text-anchor="end" textLength="8.5" lengthAdjust="spacingAndGlyphs" >40</text>
<line x1="250.7" y1="595.3" x2="253.7" y2="595.3" stroke="#1a1a1a" stroke-width="1.2" />
<text x="247.7" y="598.4" font-size="8.6" text-anchor="end" textLength="8.5" lengthAdjust="spacingAndGlyphs" >80</text>
<line x1="250.7" y1="569.8" x2="253.7" y2="569.8" stroke="#1a1a1a" stroke-width="1.2" />
<text x="247.7" y="572.9" font-size="8.6" text-anchor="end" textLength="12.75" lengthAdjust="spacingAndGlyphs" >120</text>
<line x1="266.2" y1="646.3" x2="266.2" y2="649.5" stroke="#1a1a1a" stroke-width="1.2" />
<text x="266.2" y="660.1" font-size="8.4" text-anchor="middle" textLength="4.6" lengthAdjust="spacingAndGlyphs" >3</text>
<line x1="291.6" y1="646.3" x2="291.6" y2="649.5" stroke="#1a1a1a" stroke-width="1.2" />
<text x="291.6" y="660.1" font-size="8.4" text-anchor="middle" textLength="4.6" lengthAdjust="spacingAndGlyphs" >6</text>
<line x1="317" y1="646.3" x2="317" y2="649.5" stroke="#1a1a1a" stroke-width="1.2" />
<text x="317" y="660.1" font-size="8.4" text-anchor="middle" textLength="4.6" lengthAdjust="spacingAndGlyphs" >9</text>
<line x1="330.4" y1="646.3" x2="330.4" y2="649.5" stroke="#1a1a1a" stroke-width="1.2" />
<text x="293.2" y="673.8" font-size="10.6" text-anchor="middle" textLength="16.2" lengthAdjust="spacingAndGlyphs" >Days</text>
<text transform="translate(228.8 607.5) rotate(-90)" font-size="9.8" text-anchor="middle" textLength="65" lengthAdjust="spacingAndGlyphs" >GFP+RFP+ cells, %</text>
<polyline points="266.2,582.55 291.6,587.65 317,589.56" fill="none" stroke="#69a4da" stroke-width="2" stroke-linejoin="round" />
<polyline points="266.2,582.55 291.6,617.93 317,637.18" fill="none" stroke="#69a4da" stroke-width="1.6" stroke-linejoin="round" stroke-dasharray="3 2"/>
<polyline points="266.2,583.63 291.6,587.65 317,602.5" fill="none" stroke="#980a30" stroke-width="1.6" stroke-linejoin="round" stroke-dasharray="3 2"/>
<polyline points="266.2,580.96 291.6,587.65 317,602.5" fill="none" stroke="#980a30" stroke-width="2.4" stroke-linejoin="round" />
<polygon points="266.2,579.03 269.46,585.69 262.94,585.69" fill="#6aa8de"/>
<polygon points="291.6,584.13 294.86,590.79 288.34,590.79" fill="#6aa8de"/>
<polygon points="317,586.04 320.26,592.7 313.74,592.7" fill="#6aa8de"/>
<polygon points="266.2,579.49 269,585.07 263.4,585.07" fill="#fff" stroke="#6aa8de" stroke-width="1.1"/>
<polygon points="291.6,614.87 294.4,620.45 288.8,620.45" fill="#fff" stroke="#6aa8de" stroke-width="1.1"/>
<polygon points="317,634.12 319.8,639.7 314.2,639.7" fill="#fff" stroke="#6aa8de" stroke-width="1.1"/>
<rect x="263.6" y="581.03" width="5.2" height="5.2" fill="#fff" stroke="#a3002a" stroke-width="1.3"/>
<line x1="264.2" y1="583.63" x2="268.2" y2="583.63" stroke="#a3002a" stroke-width="0.9"/>
<rect x="289" y="585.05" width="5.2" height="5.2" fill="#fff" stroke="#a3002a" stroke-width="1.3"/>
<line x1="289.6" y1="587.65" x2="293.6" y2="587.65" stroke="#a3002a" stroke-width="0.9"/>
<rect x="314.4" y="599.9" width="5.2" height="5.2" fill="#fff" stroke="#a3002a" stroke-width="1.3"/>
<line x1="315" y1="602.5" x2="319" y2="602.5" stroke="#a3002a" stroke-width="0.9"/>
<rect x="262.8" y="577.56" width="6.8" height="6.8" fill="#a3002a" />
<rect x="288.2" y="584.25" width="6.8" height="6.8" fill="#a3002a" />
<rect x="313.6" y="599.1" width="6.8" height="6.8" fill="#a3002a" />
<polyline points="325,593.3 329.5,593.3 329.5,637.5 325,637.5" fill="none" stroke="#222" stroke-width="1.1"/>
<circle cx="335.2" cy="607.6" r="0.95" fill="#222"/>
<circle cx="335.2" cy="611.07" r="0.95" fill="#222"/>
<circle cx="335.2" cy="614.54" r="0.95" fill="#222"/>
<circle cx="335.2" cy="618.01" r="0.95" fill="#222"/>
<line x1="325" y1="584.3" x2="325" y2="604.9" stroke="#555" stroke-width="1.1" />
<text x="285.2" y="552.9" font-size="8.2" text-anchor="middle" font-weight="bold" fill="#111" textLength="18.8" lengthAdjust="spacingAndGlyphs" >018Z</text>
<line x1="380.3" y1="566.6" x2="380.3" y2="648.2" stroke="#1a1a1a" stroke-width="1.5" />
<line x1="379.6" y1="647.7" x2="452.5" y2="647.7" stroke="#1a1a1a" stroke-width="1.5" />
<line x1="377.3" y1="647.7" x2="380.3" y2="647.7" stroke="#1a1a1a" stroke-width="1.2" />
<text x="374.3" y="650.8" font-size="8.6" text-anchor="end" textLength="4.25" lengthAdjust="spacingAndGlyphs" >0</text>
<line x1="377.3" y1="621.8" x2="380.3" y2="621.8" stroke="#1a1a1a" stroke-width="1.2" />
<text x="374.3" y="624.9" font-size="8.6" text-anchor="end" textLength="8.5" lengthAdjust="spacingAndGlyphs" >40</text>
<line x1="377.3" y1="595.9" x2="380.3" y2="595.9" stroke="#1a1a1a" stroke-width="1.2" />
<text x="374.3" y="599" font-size="8.6" text-anchor="end" textLength="8.5" lengthAdjust="spacingAndGlyphs" >80</text>
<line x1="377.3" y1="570" x2="380.3" y2="570" stroke="#1a1a1a" stroke-width="1.2" />
<text x="374.3" y="573.1" font-size="8.6" text-anchor="end" textLength="12.75" lengthAdjust="spacingAndGlyphs" >120</text>
<line x1="392" y1="647.7" x2="392" y2="650.9" stroke="#1a1a1a" stroke-width="1.2" />
<text x="392" y="661.5" font-size="8.4" text-anchor="middle" textLength="4.6" lengthAdjust="spacingAndGlyphs" >3</text>
<line x1="415" y1="647.7" x2="415" y2="650.9" stroke="#1a1a1a" stroke-width="1.2" />
<text x="415" y="661.5" font-size="8.4" text-anchor="middle" textLength="4.6" lengthAdjust="spacingAndGlyphs" >6</text>
<line x1="437.8" y1="647.7" x2="437.8" y2="650.9" stroke="#1a1a1a" stroke-width="1.2" />
<text x="437.8" y="661.5" font-size="8.4" text-anchor="middle" textLength="4.6" lengthAdjust="spacingAndGlyphs" >9</text>
<line x1="450.8" y1="647.7" x2="450.8" y2="650.9" stroke="#1a1a1a" stroke-width="1.2" />
<text x="416.8" y="674.9" font-size="10.6" text-anchor="middle" textLength="15" lengthAdjust="spacingAndGlyphs" >Days</text>
<text transform="translate(354.9 608.3) rotate(-90)" font-size="9.8" text-anchor="middle" textLength="64.3" lengthAdjust="spacingAndGlyphs" >GFP+RFP+ cells, %</text>
<polyline points="392,582.95 415,590.07 437.8,597.2" fill="none" stroke="#69a4da" stroke-width="2" stroke-linejoin="round" />
<polyline points="392,582.95 415,617.01 437.8,634.62" fill="none" stroke="#69a4da" stroke-width="1.6" stroke-linejoin="round" stroke-dasharray="3 2"/>
<polyline points="392,582.95 415,583.79 437.8,611.18" fill="none" stroke="#980a30" stroke-width="1.6" stroke-linejoin="round" stroke-dasharray="3 2"/>
<polyline points="392,582.95 415,590.07 437.8,604.64" fill="none" stroke="#980a30" stroke-width="2.4" stroke-linejoin="round" />
<line x1="437.8" y1="599.14" x2="437.8" y2="592.02" stroke="#6aa8de" stroke-width="1.1" />
<line x1="435.2" y1="599.14" x2="440.4" y2="599.14" stroke="#6aa8de" stroke-width="1.1" />
<line x1="435.2" y1="592.02" x2="440.4" y2="592.02" stroke="#6aa8de" stroke-width="1.1" />
<line x1="415" y1="617.27" x2="415" y2="614.03" stroke="#6aa8de" stroke-width="1.1" />
<line x1="412.4" y1="617.27" x2="417.6" y2="617.27" stroke="#6aa8de" stroke-width="1.1" />
<line x1="412.4" y1="614.03" x2="417.6" y2="614.03" stroke="#6aa8de" stroke-width="1.1" />
<polygon points="392,579.43 395.26,586.09 388.74,586.09" fill="#6aa8de"/>
<polygon points="415,586.55 418.26,593.21 411.74,593.21" fill="#6aa8de"/>
<polygon points="437.8,593.68 441.06,600.33 434.54,600.33" fill="#6aa8de"/>
<polygon points="392,579.89 394.8,585.47 389.2,585.47" fill="#fff" stroke="#6aa8de" stroke-width="1.1"/>
<polygon points="415,613.95 417.8,619.53 412.2,619.53" fill="#fff" stroke="#6aa8de" stroke-width="1.1"/>
<polygon points="437.8,631.56 440.6,637.14 435,637.14" fill="#fff" stroke="#6aa8de" stroke-width="1.1"/>
<rect x="389.4" y="580.35" width="5.2" height="5.2" fill="#fff" stroke="#a3002a" stroke-width="1.3"/>
<line x1="390" y1="582.95" x2="394" y2="582.95" stroke="#a3002a" stroke-width="0.9"/>
<rect x="412.4" y="581.19" width="5.2" height="5.2" fill="#fff" stroke="#a3002a" stroke-width="1.3"/>
<line x1="413" y1="583.79" x2="417" y2="583.79" stroke="#a3002a" stroke-width="0.9"/>
<rect x="435.2" y="608.58" width="5.2" height="5.2" fill="#fff" stroke="#a3002a" stroke-width="1.3"/>
<line x1="435.8" y1="611.18" x2="439.8" y2="611.18" stroke="#a3002a" stroke-width="0.9"/>
<rect x="388.7" y="579.65" width="6.6" height="6.6" fill="#a3002a" />
<rect x="411.7" y="586.77" width="6.6" height="6.6" fill="#a3002a" />
<rect x="434.5" y="601.34" width="6.6" height="6.6" fill="#a3002a" />
<polyline points="445.8,602.3 448.5,602.3 448.5,637.7 445.8,637.7" fill="none" stroke="#222" stroke-width="1.1"/>
<circle cx="457" cy="611.4" r="0.95" fill="#222"/>
<circle cx="457" cy="614.85" r="0.95" fill="#222"/>
<circle cx="457" cy="618.3" r="0.95" fill="#222"/>
<circle cx="457" cy="621.75" r="0.95" fill="#222"/>
<line x1="445.8" y1="593" x2="445.8" y2="613.8" stroke="#666" stroke-width="1.1" />
<text x="404.8" y="553" font-size="8.2" text-anchor="middle" font-weight="bold" fill="#111" textLength="31.2" lengthAdjust="spacingAndGlyphs" >NALM-6</text>
<line x1="424.8" y1="545" x2="451.7" y2="545" stroke="#6aa8de" stroke-width="1.8" />
<polygon points="438.3,541.37 441.67,548.23 434.93,548.23" fill="#6aa8de"/>
<text x="455.6" y="547.6" font-size="7.9" textLength="23.1" lengthAdjust="spacingAndGlyphs" >EV+Scr</text>
<line x1="424.8" y1="554.3" x2="451.7" y2="554.3" stroke="#6aa8de" stroke-width="1.5" stroke-dasharray="2.5 1.8"/>
<polygon points="438.3,551.13 441.2,556.9 435.4,556.9" fill="#fff" stroke="#6aa8de" stroke-width="1.1"/>
<text x="455.6" y="556.9" font-size="7.9" textLength="39.4" lengthAdjust="spacingAndGlyphs" >EV+ShF1-81</text>
<line x1="424.8" y1="564.2" x2="451.7" y2="564.2" stroke="#a3002a" stroke-width="1.8" />
<rect x="434.9" y="560.8" width="6.8" height="6.8" fill="#a3002a" />
<text x="455.6" y="566.8" font-size="7.9" textLength="41.4" lengthAdjust="spacingAndGlyphs" >wtF1wb+Scr</text>
<line x1="424.8" y1="572.6" x2="451.7" y2="572.6" stroke="#a3002a" stroke-width="1.5" stroke-dasharray="2.5 1.8"/>
<rect x="435.5" y="569.8" width="5.6" height="5.6" fill="#fff" stroke="#a3002a" stroke-width="1.3"/>
<line x1="436.1" y1="572.6" x2="440.5" y2="572.6" stroke="#a3002a" stroke-width="0.9"/>
<text x="455.6" y="575.2" font-size="7.9" textLength="57.7" lengthAdjust="spacingAndGlyphs" >wtF1wb+ShF1-81</text>
<rect x="0" y="0" width="520" height="1.25" fill="#000" />
<rect x="0" y="0" width="1.5" height="684" fill="#000" />
<rect x="518.4" y="0" width="1.6" height="684" fill="#000" />
<rect x="0" y="682.4" width="520" height="1.6" fill="#000" />
</svg>
</body></html>
